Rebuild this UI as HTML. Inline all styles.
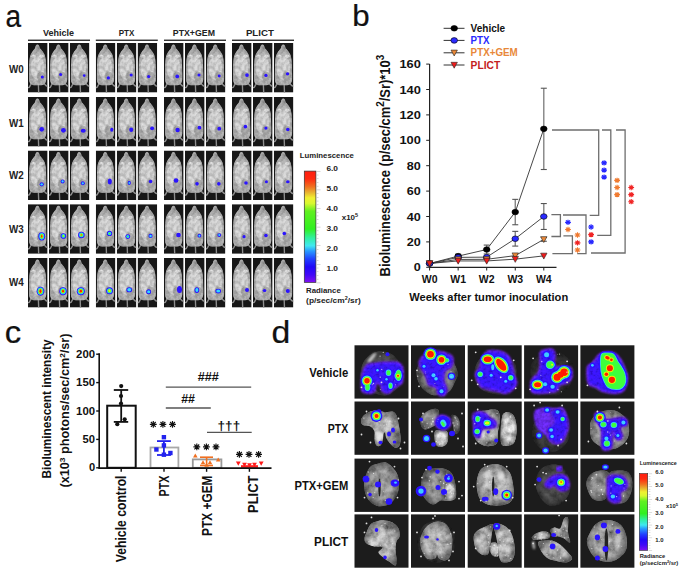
<!DOCTYPE html>
<html><head><meta charset="utf-8"><style>
html,body{margin:0;padding:0;background:#fff;}
svg{display:block;font-family:'Liberation Sans', sans-serif;}
</style></head><body>
<svg width="685" height="573" viewBox="0 0 685 573">
<defs>
<linearGradient id="cbar" x1="0" y1="0" x2="0" y2="1">
 <stop offset="0" stop-color="#ff1e10"/>
 <stop offset="0.07" stop-color="#ff2a10"/>
 <stop offset="0.14" stop-color="#f07020"/>
 <stop offset="0.19" stop-color="#e8b030"/>
 <stop offset="0.24" stop-color="#f0f030"/>
 <stop offset="0.29" stop-color="#d8f830"/>
 <stop offset="0.36" stop-color="#60f020"/>
 <stop offset="0.52" stop-color="#30f020"/>
 <stop offset="0.60" stop-color="#30f0a0"/>
 <stop offset="0.67" stop-color="#40e8f0"/>
 <stop offset="0.72" stop-color="#2898ff"/>
 <stop offset="0.79" stop-color="#2040ff"/>
 <stop offset="0.86" stop-color="#2008f8"/>
 <stop offset="0.93" stop-color="#4008f8"/>
 <stop offset="1" stop-color="#8010f0"/>
</linearGradient>
<radialGradient id="mbody" cx="0.5" cy="0.45" r="0.6">
 <stop offset="0" stop-color="#d2d2d2"/>
 <stop offset="0.7" stop-color="#bdbdbd"/>
 <stop offset="1" stop-color="#9a9a9a"/>
</radialGradient>
<radialGradient id="lung" cx="0.45" cy="0.4" r="0.65">
 <stop offset="0" stop-color="#d8d8d8"/>
 <stop offset="0.6" stop-color="#a8a8a8"/>
 <stop offset="1" stop-color="#707070"/>
</radialGradient>
<filter id="tex" x="-10%" y="-10%" width="120%" height="120%">
 <feTurbulence type="fractalNoise" baseFrequency="0.13" numOctaves="4" seed="4" result="t"/>
 <feColorMatrix in="t" type="matrix" values="1.3 0 0 0 0.02  1.3 0 0 0 0.02  1.3 0 0 0 0.02  0 0 0 0 1" result="g"/>
 <feComposite in="SourceGraphic" in2="g" operator="arithmetic" k1="1.5" k2="0" k3="0" k4="0" result="m"/>
 <feGaussianBlur in="m" stdDeviation="0.45"/>
</filter>
<filter id="texm" x="-10%" y="-10%" width="120%" height="120%">
 <feTurbulence type="fractalNoise" baseFrequency="0.3" numOctaves="3" seed="9" result="t"/>
 <feColorMatrix in="t" type="matrix" values="0.55 0 0 0 0.39  0.55 0 0 0 0.39  0.55 0 0 0 0.39  0 0 0 0 1" result="g"/>
 <feComposite in="SourceGraphic" in2="g" operator="arithmetic" k1="1.5" k2="0" k3="0" k4="0" result="m"/>
 <feGaussianBlur in="m" stdDeviation="0.35"/>
</filter>
<filter id="blur04" x="-50%" y="-50%" width="200%" height="200%"><feGaussianBlur stdDeviation="0.35"/></filter>
<filter id="texb" x="-10%" y="-10%" width="120%" height="120%">
 <feGaussianBlur in="SourceGraphic" stdDeviation="0.8" result="b"/>
 <feTurbulence type="fractalNoise" baseFrequency="0.3" numOctaves="2" seed="11" result="t"/>
 <feColorMatrix in="t" type="matrix" values="0.8 0 0 0 0.3  0.8 0 0 0 0.3  0.8 0 0 0 0.3  0 0 0 0 1" result="g"/>
 <feComposite in="b" in2="g" operator="arithmetic" k1="1.35" k2="0" k3="0" k4="0"/>
</filter>
<radialGradient id="edgeShade" cx="0.5" cy="0.5" r="0.55">
 <stop offset="0.55" stop-color="#000" stop-opacity="0"/>
 <stop offset="1" stop-color="#000" stop-opacity="0.45"/>
</radialGradient>
<filter id="blur05" x="-50%" y="-50%" width="200%" height="200%"><feGaussianBlur stdDeviation="0.45"/></filter>
<filter id="blur1" x="-50%" y="-50%" width="200%" height="200%"><feGaussianBlur stdDeviation="0.6"/></filter>
<filter id="blur2" x="-50%" y="-50%" width="200%" height="200%"><feGaussianBlur stdDeviation="1.2"/></filter>
<radialGradient id="h1"><stop offset="0" stop-color="#2a14ff" stop-opacity="1"/><stop offset="0.65" stop-color="#3012ff" stop-opacity="1"/><stop offset="0.85" stop-color="#5a18f0" stop-opacity="0.8"/><stop offset="1" stop-color="#6020e0" stop-opacity="0"/></radialGradient><radialGradient id="h2"><stop offset="0" stop-color="#40f0ff" stop-opacity="1"/><stop offset="0.3" stop-color="#30c0ff" stop-opacity="1"/><stop offset="0.5" stop-color="#2050ff" stop-opacity="1"/><stop offset="0.8" stop-color="#3010ff" stop-opacity="1"/><stop offset="1" stop-color="#5a18f0" stop-opacity="0"/></radialGradient><radialGradient id="h3"><stop offset="0" stop-color="#50ff40" stop-opacity="1"/><stop offset="0.3" stop-color="#40ff60" stop-opacity="1"/><stop offset="0.45" stop-color="#30e8e8" stop-opacity="1"/><stop offset="0.62" stop-color="#2060ff" stop-opacity="1"/><stop offset="0.82" stop-color="#3010ff" stop-opacity="1"/><stop offset="1" stop-color="#5a18f0" stop-opacity="0"/></radialGradient><radialGradient id="h4"><stop offset="0" stop-color="#ffe000" stop-opacity="1"/><stop offset="0.2" stop-color="#c0ff20" stop-opacity="1"/><stop offset="0.38" stop-color="#40ff40" stop-opacity="1"/><stop offset="0.52" stop-color="#20e8e8" stop-opacity="1"/><stop offset="0.68" stop-color="#2060ff" stop-opacity="1"/><stop offset="0.85" stop-color="#3010ff" stop-opacity="1"/><stop offset="1" stop-color="#5a18f0" stop-opacity="0"/></radialGradient><radialGradient id="h5"><stop offset="0" stop-color="#ff1000" stop-opacity="1"/><stop offset="0.38" stop-color="#ff1800" stop-opacity="1"/><stop offset="0.48" stop-color="#ffd000" stop-opacity="1"/><stop offset="0.58" stop-color="#60ff30" stop-opacity="1"/><stop offset="0.68" stop-color="#20e0f0" stop-opacity="1"/><stop offset="0.8" stop-color="#2060ff" stop-opacity="1"/><stop offset="0.9" stop-color="#3010ff" stop-opacity="1"/><stop offset="1" stop-color="#5a18f0" stop-opacity="0"/></radialGradient>
<symbol id="mouse" viewBox="0 0 20 50" preserveAspectRatio="none">
 <rect x="0" y="0" width="20" height="50" fill="#171717"/>
 <g stroke="#8e8e8e" stroke-linecap="round" fill="none">
  <path d="M10.6 42 L10.9 50" stroke-width="1.4"/>
  <path d="M3.6 40.5 L1.4 44.5 L0.6 45" stroke-width="1.4"/>
  <path d="M16 40.5 L18.6 43.2 L19.6 43.4" stroke-width="1.4"/>
 </g>
 <g filter="url(#texm)">
 <path d="M9.6 1.5 C8.4 1.5 7.6 3.2 7.2 5.2 C6.0 6.6 4.6 8.2 3.6 10.0 C2.2 12.2 1.5 15.5 1.3 19 L1.1 34 C1.0 38 1.4 40.5 3.2 41.8 C6 43 13.5 43 16.3 41.8 C18.3 40.5 18.8 38 18.7 34 L18.3 19 C18.1 15.5 17.4 12.2 16.0 10.0 C15.0 8.2 13.4 6.6 12.1 5.2 C11.7 3.2 10.9 1.5 9.6 1.5 Z" fill="#aaaaaa"/>
 <ellipse cx="9.8" cy="25" rx="7" ry="12" fill="#cacaca"/>
 <ellipse cx="5.6" cy="13.4" rx="2.3" ry="1.8" fill="#dcdcdc"/>
 <ellipse cx="13.8" cy="13.4" rx="2.3" ry="1.8" fill="#dcdcdc"/>
 <ellipse cx="9.6" cy="6" rx="1.8" ry="3" fill="#9c9c9c"/>
 <ellipse cx="13.2" cy="33.5" rx="4.2" ry="4.6" fill="#a2a2a2"/>
 </g>
</symbol>
<clipPath id="dclip00"><rect x="354.50" y="345.30" width="54.0" height="53.3"/></clipPath><clipPath id="dclip01"><rect x="411.00" y="345.30" width="54.0" height="53.3"/></clipPath><clipPath id="dclip02"><rect x="467.70" y="345.30" width="54.0" height="53.3"/></clipPath><clipPath id="dclip03"><rect x="524.10" y="345.30" width="54.0" height="53.3"/></clipPath><clipPath id="dclip04"><rect x="580.40" y="345.30" width="54.0" height="53.3"/></clipPath><clipPath id="dclip10"><rect x="354.50" y="401.50" width="54.0" height="53.3"/></clipPath><clipPath id="dclip11"><rect x="411.00" y="401.50" width="54.0" height="53.3"/></clipPath><clipPath id="dclip12"><rect x="467.70" y="401.50" width="54.0" height="53.3"/></clipPath><clipPath id="dclip13"><rect x="524.10" y="401.50" width="54.0" height="53.3"/></clipPath><clipPath id="dclip14"><rect x="580.40" y="401.50" width="54.0" height="53.3"/></clipPath><clipPath id="dclip20"><rect x="354.50" y="458.60" width="54.0" height="53.3"/></clipPath><clipPath id="dclip21"><rect x="411.00" y="458.60" width="54.0" height="53.3"/></clipPath><clipPath id="dclip22"><rect x="467.70" y="458.60" width="54.0" height="53.3"/></clipPath><clipPath id="dclip23"><rect x="524.10" y="458.60" width="54.0" height="53.3"/></clipPath><clipPath id="dclip24"><rect x="580.40" y="458.60" width="54.0" height="53.3"/></clipPath><clipPath id="dclip30"><rect x="354.50" y="514.40" width="54.0" height="53.3"/></clipPath><clipPath id="dclip31"><rect x="411.00" y="514.40" width="54.0" height="53.3"/></clipPath><clipPath id="dclip32"><rect x="467.70" y="514.40" width="54.0" height="53.3"/></clipPath><clipPath id="dclip33"><rect x="524.10" y="514.40" width="54.0" height="53.3"/></clipPath><clipPath id="dclip34"><rect x="580.40" y="514.40" width="54.0" height="53.3"/></clipPath></defs>
<rect width="685" height="573" fill="#fff"/>
<text x="5.6" y="26.9" font-size="31" font-weight="normal" fill="#111" stroke="#111" stroke-width="0.22" textLength="15.6" lengthAdjust="spacingAndGlyphs">a</text>
<text x="58.50" y="36.40" font-size="9.2" font-weight="bold" text-anchor="middle" fill="#222" textLength="31.00" lengthAdjust="spacingAndGlyphs" >Vehicle</text>
<rect x="28.00" y="39.6" width="62" height="1.3" fill="#222"/>
<text x="126.50" y="36.40" font-size="9.2" font-weight="bold" text-anchor="middle" fill="#222" textLength="15.60" lengthAdjust="spacingAndGlyphs" >PTX</text>
<rect x="95.80" y="39.6" width="62" height="1.3" fill="#222"/>
<text x="193.90" y="36.40" font-size="9.2" font-weight="bold" text-anchor="middle" fill="#222" textLength="42.10" lengthAdjust="spacingAndGlyphs" >PTX+GEM</text>
<rect x="164.00" y="39.6" width="62" height="1.3" fill="#222"/>
<text x="259.90" y="36.40" font-size="9.2" font-weight="bold" text-anchor="middle" fill="#222" textLength="28.00" lengthAdjust="spacingAndGlyphs" >PLICT</text>
<rect x="232.00" y="39.6" width="62" height="1.3" fill="#222"/>
<text x="9.00" y="72.90" font-size="10" font-weight="bold" text-anchor="start" fill="#222" textLength="14.70" lengthAdjust="spacingAndGlyphs" >W0</text>
<text x="9.00" y="126.50" font-size="10" font-weight="bold" text-anchor="start" fill="#222" textLength="14.70" lengthAdjust="spacingAndGlyphs" >W1</text>
<text x="9.00" y="179.40" font-size="10" font-weight="bold" text-anchor="start" fill="#222" textLength="14.70" lengthAdjust="spacingAndGlyphs" >W2</text>
<text x="9.00" y="232.60" font-size="10" font-weight="bold" text-anchor="start" fill="#222" textLength="14.70" lengthAdjust="spacingAndGlyphs" >W3</text>
<text x="9.00" y="286.00" font-size="10" font-weight="bold" text-anchor="start" fill="#222" textLength="14.70" lengthAdjust="spacingAndGlyphs" >W4</text>
<use href="#mouse" x="28.00" y="43.00" width="19.6" height="49.6"/>
<use href="#mouse" x="49.00" y="43.00" width="19.6" height="49.6"/>
<use href="#mouse" x="69.80" y="43.00" width="19.6" height="49.6"/>
<use href="#mouse" x="95.80" y="43.00" width="19.6" height="49.6"/>
<use href="#mouse" x="116.80" y="43.00" width="19.6" height="49.6"/>
<use href="#mouse" x="137.60" y="43.00" width="19.6" height="49.6"/>
<use href="#mouse" x="164.00" y="43.00" width="19.6" height="49.6"/>
<use href="#mouse" x="185.00" y="43.00" width="19.6" height="49.6"/>
<use href="#mouse" x="205.80" y="43.00" width="19.6" height="49.6"/>
<use href="#mouse" x="232.00" y="43.00" width="19.6" height="49.6"/>
<use href="#mouse" x="253.00" y="43.00" width="19.6" height="49.6"/>
<use href="#mouse" x="273.80" y="43.00" width="19.6" height="49.6"/>
<g filter="url(#blur04)">
<ellipse cx="42.31" cy="76.93" rx="1.55" ry="1.55" fill="#2b12ff"/>
<ellipse cx="60.66" cy="74.55" rx="1.55" ry="1.55" fill="#2b12ff"/>
<ellipse cx="84.21" cy="75.54" rx="1.35" ry="1.35" fill="#2b12ff"/>
<ellipse cx="108.34" cy="77.92" rx="1.65" ry="1.65" fill="#2b12ff"/>
<ellipse cx="131.21" cy="74.94" rx="1.55" ry="1.55" fill="#2b12ff"/>
<ellipse cx="148.67" cy="76.53" rx="1.65" ry="1.65" fill="#2b12ff"/>
<ellipse cx="177.23" cy="76.43" rx="1.85" ry="1.85" fill="#2b12ff"/>
<ellipse cx="199.01" cy="75.04" rx="1.55" ry="1.55" fill="#2b12ff"/>
<ellipse cx="219.23" cy="76.03" rx="1.45" ry="1.45" fill="#2b12ff"/>
<ellipse cx="246.99" cy="75.04" rx="1.85" ry="1.85" fill="#2b12ff"/>
<ellipse cx="265.94" cy="75.44" rx="1.65" ry="1.65" fill="#2b12ff"/>
<ellipse cx="287.52" cy="73.85" rx="1.65" ry="1.65" fill="#2b12ff"/>
</g>
<use href="#mouse" x="28.00" y="97.00" width="19.6" height="49.6"/>
<use href="#mouse" x="49.00" y="97.00" width="19.6" height="49.6"/>
<use href="#mouse" x="69.80" y="97.00" width="19.6" height="49.6"/>
<use href="#mouse" x="95.80" y="97.00" width="19.6" height="49.6"/>
<use href="#mouse" x="116.80" y="97.00" width="19.6" height="49.6"/>
<use href="#mouse" x="137.60" y="97.00" width="19.6" height="49.6"/>
<use href="#mouse" x="164.00" y="97.00" width="19.6" height="49.6"/>
<use href="#mouse" x="185.00" y="97.00" width="19.6" height="49.6"/>
<use href="#mouse" x="205.80" y="97.00" width="19.6" height="49.6"/>
<use href="#mouse" x="232.00" y="97.00" width="19.6" height="49.6"/>
<use href="#mouse" x="253.00" y="97.00" width="19.6" height="49.6"/>
<use href="#mouse" x="273.80" y="97.00" width="19.6" height="49.6"/>
<g filter="url(#blur04)">
<ellipse cx="41.72" cy="129.34" rx="2.30" ry="2.30" fill="#2b12ff"/>
<ellipse cx="63.41" cy="130.33" rx="2.40" ry="2.30" fill="#2b12ff"/>
<ellipse cx="83.23" cy="130.73" rx="2.50" ry="2.00" fill="#2b12ff"/>
<ellipse cx="111.77" cy="129.74" rx="1.60" ry="2.00" fill="#2b12ff"/>
<ellipse cx="131.21" cy="129.74" rx="2.00" ry="2.30" fill="#2b12ff"/>
<ellipse cx="152.10" cy="128.35" rx="2.00" ry="1.90" fill="#2b12ff"/>
<ellipse cx="177.62" cy="130.03" rx="2.20" ry="2.20" fill="#2b12ff"/>
<ellipse cx="199.41" cy="127.65" rx="1.90" ry="1.90" fill="#2b12ff"/>
<ellipse cx="219.23" cy="128.64" rx="1.90" ry="1.90" fill="#2b12ff"/>
<ellipse cx="245.43" cy="126.66" rx="1.80" ry="1.80" fill="#2b12ff"/>
<ellipse cx="265.94" cy="128.05" rx="1.60" ry="1.60" fill="#2b12ff"/>
<ellipse cx="287.81" cy="129.44" rx="1.80" ry="1.80" fill="#2b12ff"/>
</g>
<use href="#mouse" x="28.00" y="150.50" width="19.6" height="49.6"/>
<use href="#mouse" x="49.00" y="150.50" width="19.6" height="49.6"/>
<use href="#mouse" x="69.80" y="150.50" width="19.6" height="49.6"/>
<use href="#mouse" x="95.80" y="150.50" width="19.6" height="49.6"/>
<use href="#mouse" x="116.80" y="150.50" width="19.6" height="49.6"/>
<use href="#mouse" x="137.60" y="150.50" width="19.6" height="49.6"/>
<use href="#mouse" x="164.00" y="150.50" width="19.6" height="49.6"/>
<use href="#mouse" x="185.00" y="150.50" width="19.6" height="49.6"/>
<use href="#mouse" x="205.80" y="150.50" width="19.6" height="49.6"/>
<use href="#mouse" x="232.00" y="150.50" width="19.6" height="49.6"/>
<use href="#mouse" x="253.00" y="150.50" width="19.6" height="49.6"/>
<use href="#mouse" x="273.80" y="150.50" width="19.6" height="49.6"/>
<g filter="url(#blur04)">
<ellipse cx="41.72" cy="184.33" rx="2.10" ry="2.10" fill="#2b12ff"/>
<ellipse cx="62.62" cy="181.45" rx="2.00" ry="2.00" fill="#2b12ff"/>
<ellipse cx="82.83" cy="183.34" rx="2.00" ry="2.00" fill="#2b12ff"/>
<ellipse cx="109.81" cy="181.45" rx="2.00" ry="3.00" fill="#2b12ff"/>
<ellipse cx="129.25" cy="182.94" rx="1.60" ry="2.10" fill="#2b12ff"/>
<ellipse cx="150.54" cy="181.45" rx="1.80" ry="1.80" fill="#2b12ff"/>
<ellipse cx="176.05" cy="180.46" rx="2.30" ry="2.30" fill="#2b12ff"/>
<ellipse cx="197.05" cy="183.83" rx="1.80" ry="1.80" fill="#2b12ff"/>
<ellipse cx="218.83" cy="183.83" rx="1.80" ry="1.80" fill="#2b12ff"/>
<ellipse cx="246.01" cy="183.04" rx="1.80" ry="1.80" fill="#2b12ff"/>
<ellipse cx="266.43" cy="181.85" rx="1.50" ry="1.50" fill="#2b12ff"/>
<ellipse cx="287.81" cy="181.85" rx="1.80" ry="1.50" fill="#2b12ff"/>
<ellipse cx="41.72" cy="184.33" rx="1.20" ry="1.20" fill="#30d8ff"/>
<ellipse cx="62.62" cy="181.45" rx="1.10" ry="1.10" fill="#30d8ff"/>
<ellipse cx="82.83" cy="183.34" rx="1.10" ry="1.10" fill="#30d8ff"/>
<ellipse cx="129.25" cy="182.94" rx="0.70" ry="1.20" fill="#30d8ff"/>
</g>
<use href="#mouse" x="28.00" y="204.20" width="19.6" height="49.6"/>
<use href="#mouse" x="49.00" y="204.20" width="19.6" height="49.6"/>
<use href="#mouse" x="69.80" y="204.20" width="19.6" height="49.6"/>
<use href="#mouse" x="95.80" y="204.20" width="19.6" height="49.6"/>
<use href="#mouse" x="116.80" y="204.20" width="19.6" height="49.6"/>
<use href="#mouse" x="137.60" y="204.20" width="19.6" height="49.6"/>
<use href="#mouse" x="164.00" y="204.20" width="19.6" height="49.6"/>
<use href="#mouse" x="185.00" y="204.20" width="19.6" height="49.6"/>
<use href="#mouse" x="205.80" y="204.20" width="19.6" height="49.6"/>
<use href="#mouse" x="232.00" y="204.20" width="19.6" height="49.6"/>
<use href="#mouse" x="253.00" y="204.20" width="19.6" height="49.6"/>
<use href="#mouse" x="273.80" y="204.20" width="19.6" height="49.6"/>
<g filter="url(#blur04)">
<ellipse cx="41.72" cy="236.34" rx="3.40" ry="4.20" fill="#2b12ff"/>
<ellipse cx="63.41" cy="235.94" rx="2.80" ry="2.80" fill="#2b12ff"/>
<ellipse cx="81.36" cy="234.95" rx="3.30" ry="3.30" fill="#2b12ff"/>
<ellipse cx="109.52" cy="233.46" rx="2.60" ry="2.60" fill="#2b12ff"/>
<ellipse cx="127.78" cy="236.54" rx="2.40" ry="2.40" fill="#2b12ff"/>
<ellipse cx="150.54" cy="235.94" rx="2.10" ry="2.10" fill="#2b12ff"/>
<ellipse cx="178.50" cy="235.05" rx="2.30" ry="2.30" fill="#2b12ff"/>
<ellipse cx="199.41" cy="235.65" rx="1.90" ry="1.90" fill="#2b12ff"/>
<ellipse cx="219.23" cy="235.05" rx="1.90" ry="1.90" fill="#2b12ff"/>
<ellipse cx="244.05" cy="236.64" rx="1.60" ry="1.60" fill="#2b12ff"/>
<ellipse cx="265.94" cy="235.45" rx="1.80" ry="1.80" fill="#2b12ff"/>
<ellipse cx="284.29" cy="233.46" rx="1.80" ry="1.80" fill="#2b12ff"/>
<ellipse cx="41.72" cy="236.34" rx="2.50" ry="3.30" fill="#30d8ff"/>
<ellipse cx="63.41" cy="235.94" rx="1.90" ry="1.90" fill="#30d8ff"/>
<ellipse cx="81.36" cy="234.95" rx="2.40" ry="2.40" fill="#30d8ff"/>
<ellipse cx="109.52" cy="233.46" rx="1.70" ry="1.70" fill="#30d8ff"/>
<ellipse cx="127.78" cy="236.54" rx="1.50" ry="1.50" fill="#30d8ff"/>
<ellipse cx="150.54" cy="235.94" rx="1.20" ry="1.20" fill="#30d8ff"/>
<ellipse cx="199.41" cy="235.65" rx="1.00" ry="1.00" fill="#30d8ff"/>
<ellipse cx="219.23" cy="235.05" rx="1.00" ry="1.00" fill="#30d8ff"/>
<ellipse cx="41.72" cy="236.34" rx="1.80" ry="2.60" fill="#3cff3c"/>
<ellipse cx="63.41" cy="235.94" rx="1.20" ry="1.20" fill="#3cff3c"/>
<ellipse cx="81.36" cy="234.95" rx="1.70" ry="1.70" fill="#3cff3c"/>
<ellipse cx="109.52" cy="233.46" rx="1.00" ry="1.00" fill="#3cff3c"/>
<ellipse cx="127.78" cy="236.54" rx="0.80" ry="0.80" fill="#3cff3c"/>
<ellipse cx="41.72" cy="236.34" rx="1.20" ry="2.00" fill="#f0f400"/>
<ellipse cx="63.41" cy="235.94" rx="0.60" ry="0.60" fill="#f0f400"/>
<ellipse cx="81.36" cy="234.95" rx="1.10" ry="1.10" fill="#f0f400"/>
<ellipse cx="41.72" cy="236.34" rx="0.70" ry="1.50" fill="#ff1a00"/>
<ellipse cx="81.36" cy="234.95" rx="0.60" ry="0.60" fill="#ff1a00"/>
</g>
<use href="#mouse" x="28.00" y="258.00" width="19.6" height="49.6"/>
<use href="#mouse" x="49.00" y="258.00" width="19.6" height="49.6"/>
<use href="#mouse" x="69.80" y="258.00" width="19.6" height="49.6"/>
<use href="#mouse" x="95.80" y="258.00" width="19.6" height="49.6"/>
<use href="#mouse" x="116.80" y="258.00" width="19.6" height="49.6"/>
<use href="#mouse" x="137.60" y="258.00" width="19.6" height="49.6"/>
<use href="#mouse" x="164.00" y="258.00" width="19.6" height="49.6"/>
<use href="#mouse" x="185.00" y="258.00" width="19.6" height="49.6"/>
<use href="#mouse" x="205.80" y="258.00" width="19.6" height="49.6"/>
<use href="#mouse" x="232.00" y="258.00" width="19.6" height="49.6"/>
<use href="#mouse" x="253.00" y="258.00" width="19.6" height="49.6"/>
<use href="#mouse" x="273.80" y="258.00" width="19.6" height="49.6"/>
<g filter="url(#blur04)">
<ellipse cx="40.45" cy="291.13" rx="3.80" ry="4.50" fill="#2b12ff"/>
<ellipse cx="63.01" cy="291.13" rx="3.70" ry="4.00" fill="#2b12ff"/>
<ellipse cx="80.78" cy="291.13" rx="4.00" ry="4.00" fill="#2b12ff"/>
<ellipse cx="109.52" cy="290.74" rx="3.40" ry="3.50" fill="#2b12ff"/>
<ellipse cx="129.25" cy="289.74" rx="2.90" ry="2.60" fill="#2b12ff"/>
<ellipse cx="148.67" cy="291.73" rx="2.50" ry="2.50" fill="#2b12ff"/>
<ellipse cx="179.48" cy="289.45" rx="2.50" ry="3.50" fill="#2b12ff"/>
<ellipse cx="196.86" cy="290.04" rx="2.40" ry="2.90" fill="#2b12ff"/>
<ellipse cx="218.25" cy="291.03" rx="2.90" ry="2.40" fill="#2b12ff"/>
<ellipse cx="246.99" cy="290.04" rx="2.00" ry="2.00" fill="#2b12ff"/>
<ellipse cx="264.56" cy="290.44" rx="1.80" ry="1.50" fill="#2b12ff"/>
<ellipse cx="287.81" cy="291.03" rx="2.00" ry="2.00" fill="#2b12ff"/>
<ellipse cx="40.45" cy="291.13" rx="2.90" ry="3.60" fill="#30d8ff"/>
<ellipse cx="63.01" cy="291.13" rx="2.80" ry="3.10" fill="#30d8ff"/>
<ellipse cx="80.78" cy="291.13" rx="3.10" ry="3.10" fill="#30d8ff"/>
<ellipse cx="109.52" cy="290.74" rx="2.50" ry="2.60" fill="#30d8ff"/>
<ellipse cx="129.25" cy="289.74" rx="2.00" ry="1.70" fill="#30d8ff"/>
<ellipse cx="148.67" cy="291.73" rx="1.60" ry="1.60" fill="#30d8ff"/>
<ellipse cx="196.86" cy="290.04" rx="1.50" ry="2.00" fill="#30d8ff"/>
<ellipse cx="218.25" cy="291.03" rx="2.00" ry="1.50" fill="#30d8ff"/>
<ellipse cx="40.45" cy="291.13" rx="2.20" ry="2.90" fill="#3cff3c"/>
<ellipse cx="63.01" cy="291.13" rx="2.10" ry="2.40" fill="#3cff3c"/>
<ellipse cx="80.78" cy="291.13" rx="2.40" ry="2.40" fill="#3cff3c"/>
<ellipse cx="109.52" cy="290.74" rx="1.80" ry="1.90" fill="#3cff3c"/>
<ellipse cx="40.45" cy="291.13" rx="1.60" ry="2.30" fill="#f0f400"/>
<ellipse cx="63.01" cy="291.13" rx="1.50" ry="1.80" fill="#f0f400"/>
<ellipse cx="80.78" cy="291.13" rx="1.80" ry="1.80" fill="#f0f400"/>
<ellipse cx="109.52" cy="290.74" rx="1.20" ry="1.30" fill="#f0f400"/>
<ellipse cx="40.45" cy="291.13" rx="1.10" ry="1.80" fill="#ff1a00"/>
<ellipse cx="63.01" cy="291.13" rx="1.00" ry="1.30" fill="#ff1a00"/>
<ellipse cx="80.78" cy="291.13" rx="1.30" ry="1.30" fill="#ff1a00"/>
</g>
<rect x="304.3" y="171.1" width="11.6" height="111.3" fill="url(#cbar)" stroke="#333" stroke-width="0.7"/>
<text x="299.80" y="158.20" font-size="7.8" font-weight="bold" text-anchor="start" fill="#222" textLength="54.00" lengthAdjust="spacingAndGlyphs" >Luminescence</text>
<text x="326.40" y="170.80" font-size="8" font-weight="bold" text-anchor="start" fill="#222" textLength="11.60" lengthAdjust="spacingAndGlyphs" >6.0</text>
<text x="326.40" y="190.75" font-size="8" font-weight="bold" text-anchor="start" fill="#222" textLength="11.60" lengthAdjust="spacingAndGlyphs" >5.0</text>
<text x="326.40" y="210.70" font-size="8" font-weight="bold" text-anchor="start" fill="#222" textLength="11.60" lengthAdjust="spacingAndGlyphs" >4.0</text>
<text x="326.40" y="230.65" font-size="8" font-weight="bold" text-anchor="start" fill="#222" textLength="11.60" lengthAdjust="spacingAndGlyphs" >3.0</text>
<text x="326.40" y="250.60" font-size="8" font-weight="bold" text-anchor="start" fill="#222" textLength="11.60" lengthAdjust="spacingAndGlyphs" >2.0</text>
<text x="326.40" y="270.55" font-size="8" font-weight="bold" text-anchor="start" fill="#222" textLength="11.60" lengthAdjust="spacingAndGlyphs" >1.0</text>
<rect x="316.5" y="171.00" width="4" height="0.6" fill="#bbb"/>
<rect x="316.5" y="174.72" width="2" height="0.6" fill="#bbb"/>
<rect x="316.5" y="178.44" width="2" height="0.6" fill="#bbb"/>
<rect x="316.5" y="182.16" width="2" height="0.6" fill="#bbb"/>
<rect x="316.5" y="185.88" width="2" height="0.6" fill="#bbb"/>
<rect x="316.5" y="189.60" width="4" height="0.6" fill="#bbb"/>
<rect x="316.5" y="193.32" width="2" height="0.6" fill="#bbb"/>
<rect x="316.5" y="197.04" width="2" height="0.6" fill="#bbb"/>
<rect x="316.5" y="200.76" width="2" height="0.6" fill="#bbb"/>
<rect x="316.5" y="204.48" width="2" height="0.6" fill="#bbb"/>
<rect x="316.5" y="208.20" width="4" height="0.6" fill="#bbb"/>
<rect x="316.5" y="211.92" width="2" height="0.6" fill="#bbb"/>
<rect x="316.5" y="215.64" width="2" height="0.6" fill="#bbb"/>
<rect x="316.5" y="219.36" width="2" height="0.6" fill="#bbb"/>
<rect x="316.5" y="223.08" width="2" height="0.6" fill="#bbb"/>
<rect x="316.5" y="226.80" width="4" height="0.6" fill="#bbb"/>
<rect x="316.5" y="230.52" width="2" height="0.6" fill="#bbb"/>
<rect x="316.5" y="234.24" width="2" height="0.6" fill="#bbb"/>
<rect x="316.5" y="237.96" width="2" height="0.6" fill="#bbb"/>
<rect x="316.5" y="241.68" width="2" height="0.6" fill="#bbb"/>
<rect x="316.5" y="245.40" width="4" height="0.6" fill="#bbb"/>
<rect x="316.5" y="249.12" width="2" height="0.6" fill="#bbb"/>
<rect x="316.5" y="252.84" width="2" height="0.6" fill="#bbb"/>
<rect x="316.5" y="256.56" width="2" height="0.6" fill="#bbb"/>
<rect x="316.5" y="260.28" width="2" height="0.6" fill="#bbb"/>
<rect x="316.5" y="264.00" width="4" height="0.6" fill="#bbb"/>
<rect x="316.5" y="267.72" width="2" height="0.6" fill="#bbb"/>
<rect x="316.5" y="271.44" width="2" height="0.6" fill="#bbb"/>
<rect x="316.5" y="275.16" width="2" height="0.6" fill="#bbb"/>
<rect x="316.5" y="278.88" width="2" height="0.6" fill="#bbb"/>
<rect x="316.5" y="282.60" width="4" height="0.6" fill="#bbb"/>
<text x="341.7" y="219.5" font-size="8" font-weight="bold" fill="#222">x10<tspan font-size="5.5" dy="-3">5</tspan></text>
<text x="306.10" y="292.50" font-size="7.8" font-weight="bold" text-anchor="start" fill="#222" textLength="34.70" lengthAdjust="spacingAndGlyphs" >Radiance</text>
<text x="306.1" y="302.8" font-size="7.8" font-weight="bold" fill="#222" textLength="54.6" lengthAdjust="spacingAndGlyphs">(p/sec/cm<tspan font-size="5" dy="-3">2</tspan><tspan dy="3">/sr)</tspan></text>
<text x="352.2" y="26.0" font-size="30" font-weight="normal" fill="#111" stroke="#111" stroke-width="0.22" textLength="17.4" lengthAdjust="spacingAndGlyphs">b</text>
<line x1="429.6" y1="64" x2="429.6" y2="267.90000000000003" stroke="#222" stroke-width="1.2"/>
<line x1="429.0" y1="267.3" x2="556.5" y2="267.3" stroke="#222" stroke-width="1.2"/>
<line x1="426.2" y1="267.30" x2="429.6" y2="267.30" stroke="#222" stroke-width="1"/>
<text x="420.80" y="271.40" font-size="11.5" font-weight="bold" text-anchor="end" fill="#111" textLength="7.00" lengthAdjust="spacingAndGlyphs" >0</text>
<line x1="426.2" y1="241.90" x2="429.6" y2="241.90" stroke="#222" stroke-width="1"/>
<text x="420.80" y="246.00" font-size="11.5" font-weight="bold" text-anchor="end" fill="#111" textLength="14.00" lengthAdjust="spacingAndGlyphs" >20</text>
<line x1="426.2" y1="216.50" x2="429.6" y2="216.50" stroke="#222" stroke-width="1"/>
<text x="420.80" y="220.60" font-size="11.5" font-weight="bold" text-anchor="end" fill="#111" textLength="14.00" lengthAdjust="spacingAndGlyphs" >40</text>
<line x1="426.2" y1="191.10" x2="429.6" y2="191.10" stroke="#222" stroke-width="1"/>
<text x="420.80" y="195.20" font-size="11.5" font-weight="bold" text-anchor="end" fill="#111" textLength="14.00" lengthAdjust="spacingAndGlyphs" >60</text>
<line x1="426.2" y1="165.70" x2="429.6" y2="165.70" stroke="#222" stroke-width="1"/>
<text x="420.80" y="169.80" font-size="11.5" font-weight="bold" text-anchor="end" fill="#111" textLength="14.00" lengthAdjust="spacingAndGlyphs" >80</text>
<line x1="426.2" y1="140.30" x2="429.6" y2="140.30" stroke="#222" stroke-width="1"/>
<text x="420.80" y="144.40" font-size="11.5" font-weight="bold" text-anchor="end" fill="#111" textLength="21.40" lengthAdjust="spacingAndGlyphs" >100</text>
<line x1="426.2" y1="114.90" x2="429.6" y2="114.90" stroke="#222" stroke-width="1"/>
<text x="420.80" y="119.00" font-size="11.5" font-weight="bold" text-anchor="end" fill="#111" textLength="21.40" lengthAdjust="spacingAndGlyphs" >120</text>
<line x1="426.2" y1="89.50" x2="429.6" y2="89.50" stroke="#222" stroke-width="1"/>
<text x="420.80" y="93.60" font-size="11.5" font-weight="bold" text-anchor="end" fill="#111" textLength="21.40" lengthAdjust="spacingAndGlyphs" >140</text>
<line x1="426.2" y1="64.10" x2="429.6" y2="64.10" stroke="#222" stroke-width="1"/>
<text x="420.80" y="68.20" font-size="11.5" font-weight="bold" text-anchor="end" fill="#111" textLength="21.40" lengthAdjust="spacingAndGlyphs" >160</text>
<line x1="429.60" y1="267.3" x2="429.60" y2="270.5" stroke="#222" stroke-width="1"/>
<text x="429.60" y="282.70" font-size="10.5" font-weight="bold" text-anchor="middle" fill="#111" >W0</text>
<line x1="458.15" y1="267.3" x2="458.15" y2="270.5" stroke="#222" stroke-width="1"/>
<text x="458.15" y="282.70" font-size="10.5" font-weight="bold" text-anchor="middle" fill="#111" >W1</text>
<line x1="486.70" y1="267.3" x2="486.70" y2="270.5" stroke="#222" stroke-width="1"/>
<text x="486.70" y="282.70" font-size="10.5" font-weight="bold" text-anchor="middle" fill="#111" >W2</text>
<line x1="515.25" y1="267.3" x2="515.25" y2="270.5" stroke="#222" stroke-width="1"/>
<text x="515.25" y="282.70" font-size="10.5" font-weight="bold" text-anchor="middle" fill="#111" >W3</text>
<line x1="543.80" y1="267.3" x2="543.80" y2="270.5" stroke="#222" stroke-width="1"/>
<text x="543.80" y="282.70" font-size="10.5" font-weight="bold" text-anchor="middle" fill="#111" >W4</text>
<text x="409.20" y="300.70" font-size="11.6" font-weight="bold" text-anchor="start" fill="#111" textLength="159.00" lengthAdjust="spacingAndGlyphs" >Weeks after tumor inoculation</text>
<text transform="translate(389.6,276.4) rotate(-90)" x="0" y="0" font-size="13.8" font-weight="bold" fill="#111" textLength="221.7" lengthAdjust="spacingAndGlyphs">Bioluminescence (p/sec/cm<tspan font-size="10.6" dy="-5.6">2</tspan><tspan dy="5.6">/Sr)*10</tspan><tspan font-size="10.6" dy="-5.6">3</tspan></text>
<line x1="458.15" y1="254.22" x2="458.15" y2="258.03" stroke="#7a7a7a" stroke-width="1.3"/>
<line x1="455.15" y1="254.22" x2="461.15" y2="254.22" stroke="#555" stroke-width="1.1"/>
<line x1="455.15" y1="258.03" x2="461.15" y2="258.03" stroke="#555" stroke-width="1.1"/>
<line x1="486.70" y1="245.08" x2="486.70" y2="253.97" stroke="#7a7a7a" stroke-width="1.3"/>
<line x1="483.70" y1="245.08" x2="489.70" y2="245.08" stroke="#555" stroke-width="1.1"/>
<line x1="483.70" y1="253.97" x2="489.70" y2="253.97" stroke="#555" stroke-width="1.1"/>
<line x1="515.25" y1="199.36" x2="515.25" y2="224.75" stroke="#7a7a7a" stroke-width="1.3"/>
<line x1="512.25" y1="199.36" x2="518.25" y2="199.36" stroke="#555" stroke-width="1.1"/>
<line x1="512.25" y1="224.75" x2="518.25" y2="224.75" stroke="#555" stroke-width="1.1"/>
<line x1="543.80" y1="88.23" x2="543.80" y2="169.51" stroke="#7a7a7a" stroke-width="1.3"/>
<line x1="540.80" y1="88.23" x2="546.80" y2="88.23" stroke="#555" stroke-width="1.1"/>
<line x1="540.80" y1="169.51" x2="546.80" y2="169.51" stroke="#555" stroke-width="1.1"/>
<line x1="515.25" y1="231.36" x2="515.25" y2="246.09" stroke="#7a7a7a" stroke-width="1.3"/>
<line x1="512.25" y1="231.36" x2="518.25" y2="231.36" stroke="#555" stroke-width="1.1"/>
<line x1="512.25" y1="246.09" x2="518.25" y2="246.09" stroke="#555" stroke-width="1.1"/>
<line x1="543.80" y1="203.55" x2="543.80" y2="229.45" stroke="#7a7a7a" stroke-width="1.3"/>
<line x1="540.80" y1="203.55" x2="546.80" y2="203.55" stroke="#555" stroke-width="1.1"/>
<line x1="540.80" y1="229.45" x2="546.80" y2="229.45" stroke="#555" stroke-width="1.1"/>
<line x1="543.80" y1="237.46" x2="543.80" y2="241.27" stroke="#7a7a7a" stroke-width="1.3"/>
<line x1="540.80" y1="237.46" x2="546.80" y2="237.46" stroke="#555" stroke-width="1.1"/>
<line x1="540.80" y1="241.27" x2="546.80" y2="241.27" stroke="#555" stroke-width="1.1"/>
<polyline points="429.60,263.49 458.15,256.12 486.70,249.52 515.25,212.06 543.80,128.87" fill="none" stroke="#333" stroke-width="0.9"/>
<polyline points="429.60,263.49 458.15,257.39 486.70,257.14 515.25,238.73 543.80,216.50" fill="none" stroke="#333" stroke-width="0.9"/>
<polyline points="429.60,263.49 458.15,259.43 486.70,259.30 515.25,255.62 543.80,239.36" fill="none" stroke="#333" stroke-width="0.9"/>
<polyline points="429.60,263.49 458.15,260.95 486.70,260.95 515.25,259.17 543.80,255.87" fill="none" stroke="#333" stroke-width="0.9"/>
<ellipse cx="429.60" cy="263.49" rx="3.30" ry="2.80" fill="#000000" stroke="#000" stroke-width="0.6"/>
<ellipse cx="458.15" cy="256.12" rx="3.30" ry="2.80" fill="#000000" stroke="#000" stroke-width="0.6"/>
<ellipse cx="486.70" cy="249.52" rx="3.30" ry="2.80" fill="#000000" stroke="#000" stroke-width="0.6"/>
<ellipse cx="515.25" cy="212.06" rx="3.30" ry="2.80" fill="#000000" stroke="#000" stroke-width="0.6"/>
<ellipse cx="543.80" cy="128.87" rx="3.30" ry="2.80" fill="#000000" stroke="#000" stroke-width="0.6"/>
<ellipse cx="429.60" cy="263.49" rx="3.30" ry="2.80" fill="#2a2aff" stroke="#000" stroke-width="0.6"/>
<ellipse cx="458.15" cy="257.39" rx="3.30" ry="2.80" fill="#2a2aff" stroke="#000" stroke-width="0.6"/>
<ellipse cx="486.70" cy="257.14" rx="3.30" ry="2.80" fill="#2a2aff" stroke="#000" stroke-width="0.6"/>
<ellipse cx="515.25" cy="238.73" rx="3.30" ry="2.80" fill="#2a2aff" stroke="#000" stroke-width="0.6"/>
<ellipse cx="543.80" cy="216.50" rx="3.30" ry="2.80" fill="#2a2aff" stroke="#000" stroke-width="0.6"/>
<path d="M426.40 260.79 L432.80 260.79 L429.60 266.69 Z" fill="#e8883a" stroke="#222" stroke-width="0.6"/>
<path d="M454.95 256.73 L461.35 256.73 L458.15 262.63 Z" fill="#e8883a" stroke="#222" stroke-width="0.6"/>
<path d="M483.50 256.60 L489.90 256.60 L486.70 262.50 Z" fill="#e8883a" stroke="#222" stroke-width="0.6"/>
<path d="M512.05 252.92 L518.45 252.92 L515.25 258.82 Z" fill="#e8883a" stroke="#222" stroke-width="0.6"/>
<path d="M540.60 236.66 L547.00 236.66 L543.80 242.56 Z" fill="#e8883a" stroke="#222" stroke-width="0.6"/>
<path d="M426.40 260.79 L432.80 260.79 L429.60 266.69 Z" fill="#ee1c1c" stroke="#222" stroke-width="0.6"/>
<path d="M454.95 258.25 L461.35 258.25 L458.15 264.15 Z" fill="#ee1c1c" stroke="#222" stroke-width="0.6"/>
<path d="M483.50 258.25 L489.90 258.25 L486.70 264.15 Z" fill="#ee1c1c" stroke="#222" stroke-width="0.6"/>
<path d="M512.05 256.47 L518.45 256.47 L515.25 262.37 Z" fill="#ee1c1c" stroke="#222" stroke-width="0.6"/>
<path d="M540.60 253.17 L547.00 253.17 L543.80 259.07 Z" fill="#ee1c1c" stroke="#222" stroke-width="0.6"/>
<line x1="443.6" y1="28.3" x2="464.5" y2="28.3" stroke="#333" stroke-width="1"/>
<ellipse cx="454.20" cy="28.30" rx="3.30" ry="2.80" fill="#000000" stroke="#000" stroke-width="0.6"/>
<text x="470.60" y="31.90" font-size="10" font-weight="bold" text-anchor="start" fill="#111" textLength="34.60" lengthAdjust="spacingAndGlyphs" >Vehicle</text>
<line x1="443.6" y1="40.4" x2="464.5" y2="40.4" stroke="#333" stroke-width="1"/>
<ellipse cx="454.20" cy="40.40" rx="3.30" ry="2.80" fill="#2a2aff" stroke="#000" stroke-width="0.6"/>
<text x="470.60" y="44.00" font-size="10" font-weight="bold" text-anchor="start" fill="#2a2aff" textLength="19.00" lengthAdjust="spacingAndGlyphs" >PTX</text>
<line x1="443.6" y1="52.8" x2="464.5" y2="52.8" stroke="#333" stroke-width="1"/>
<path d="M451.00 50.10 L457.40 50.10 L454.20 56.00 Z" fill="#e8883a" stroke="#222" stroke-width="0.6"/>
<text x="470.60" y="56.40" font-size="10" font-weight="bold" text-anchor="start" fill="#e8883a" textLength="47.20" lengthAdjust="spacingAndGlyphs" >PTX+GEM</text>
<line x1="443.6" y1="65.0" x2="464.5" y2="65.0" stroke="#333" stroke-width="1"/>
<path d="M451.00 62.30 L457.40 62.30 L454.20 68.20 Z" fill="#ee1c1c" stroke="#222" stroke-width="0.6"/>
<text x="470.60" y="68.60" font-size="10" font-weight="bold" text-anchor="start" fill="#c42020" textLength="29.60" lengthAdjust="spacingAndGlyphs" >PLICT</text>
<polyline points="552,130 598.7,130 598.7,215.3 589.7,215.3" fill="none" stroke="#6e6e6e" stroke-width="1.3"/>
<polyline points="602,130 610.8,130 610.8,235.4 597.2,235.4" fill="none" stroke="#6e6e6e" stroke-width="1.3"/>
<polyline points="616,130 625.1,130 625.1,253.0 591.0,253.0" fill="none" stroke="#6e6e6e" stroke-width="1.3"/>
<polyline points="551.4,214.6 560.4,214.6 560.4,236.5 551.4,236.5" fill="none" stroke="#6e6e6e" stroke-width="1.3"/>
<polyline points="563,215.0 586,215.0 586,253.7 577.2,253.7" fill="none" stroke="#6e6e6e" stroke-width="1.3"/>
<polyline points="563.4,235.8 572.4,235.8 572.4,253.7 552.4,253.7" fill="none" stroke="#6e6e6e" stroke-width="1.3"/>
<path d="M604.10 160.23 L604.10 165.57 M606.15 161.01 L602.05 164.79 M607.00 162.90 L601.20 162.90 M606.15 164.79 L602.05 161.01 " stroke="#2626ff" stroke-width="1.15" fill="none" stroke-linecap="butt"/>
<path d="M604.10 167.43 L604.10 172.77 M606.15 168.21 L602.05 171.99 M607.00 170.10 L601.20 170.10 M606.15 171.99 L602.05 168.21 " stroke="#2626ff" stroke-width="1.15" fill="none" stroke-linecap="butt"/>
<path d="M604.10 174.43 L604.10 179.77 M606.15 175.21 L602.05 178.99 M607.00 177.10 L601.20 177.10 M606.15 178.99 L602.05 175.21 " stroke="#2626ff" stroke-width="1.15" fill="none" stroke-linecap="butt"/>
<path d="M617.10 177.73 L617.10 183.07 M619.15 178.51 L615.05 182.29 M620.00 180.40 L614.20 180.40 M619.15 182.29 L615.05 178.51 " stroke="#f07a30" stroke-width="1.15" fill="none" stroke-linecap="butt"/>
<path d="M617.10 184.83 L617.10 190.17 M619.15 185.61 L615.05 189.39 M620.00 187.50 L614.20 187.50 M619.15 189.39 L615.05 185.61 " stroke="#f07a30" stroke-width="1.15" fill="none" stroke-linecap="butt"/>
<path d="M617.10 191.93 L617.10 197.27 M619.15 192.71 L615.05 196.49 M620.00 194.60 L614.20 194.60 M619.15 196.49 L615.05 192.71 " stroke="#f07a30" stroke-width="1.15" fill="none" stroke-linecap="butt"/>
<path d="M631.20 184.83 L631.20 190.17 M633.25 185.61 L629.15 189.39 M634.10 187.50 L628.30 187.50 M633.25 189.39 L629.15 185.61 " stroke="#f02424" stroke-width="1.15" fill="none" stroke-linecap="butt"/>
<path d="M631.20 191.93 L631.20 197.27 M633.25 192.71 L629.15 196.49 M634.10 194.60 L628.30 194.60 M633.25 196.49 L629.15 192.71 " stroke="#f02424" stroke-width="1.15" fill="none" stroke-linecap="butt"/>
<path d="M631.20 199.03 L631.20 204.37 M633.25 199.81 L629.15 203.59 M634.10 201.70 L628.30 201.70 M633.25 203.59 L629.15 199.81 " stroke="#f02424" stroke-width="1.15" fill="none" stroke-linecap="butt"/>
<path d="M568.00 219.63 L568.00 224.97 M570.05 220.41 L565.95 224.19 M570.90 222.30 L565.10 222.30 M570.05 224.19 L565.95 220.41 " stroke="#2626ff" stroke-width="1.15" fill="none" stroke-linecap="butt"/>
<path d="M568.00 226.83 L568.00 232.17 M570.05 227.61 L565.95 231.39 M570.90 229.50 L565.10 229.50 M570.05 231.39 L565.95 227.61 " stroke="#f07a30" stroke-width="1.15" fill="none" stroke-linecap="butt"/>
<path d="M577.50 232.33 L577.50 237.67 M579.55 233.11 L575.45 236.89 M580.40 235.00 L574.60 235.00 M579.55 236.89 L575.45 233.11 " stroke="#f07a30" stroke-width="1.15" fill="none" stroke-linecap="butt"/>
<path d="M577.50 240.13 L577.50 245.47 M579.55 240.91 L575.45 244.69 M580.40 242.80 L574.60 242.80 M579.55 244.69 L575.45 240.91 " stroke="#f02424" stroke-width="1.15" fill="none" stroke-linecap="butt"/>
<path d="M577.50 247.33 L577.50 252.67 M579.55 248.11 L575.45 251.89 M580.40 250.00 L574.60 250.00 M579.55 251.89 L575.45 248.11 " stroke="#f07a30" stroke-width="1.15" fill="none" stroke-linecap="butt"/>
<path d="M591.10 224.33 L591.10 229.67 M593.15 225.11 L589.05 228.89 M594.00 227.00 L588.20 227.00 M593.15 228.89 L589.05 225.11 " stroke="#2626ff" stroke-width="1.15" fill="none" stroke-linecap="butt"/>
<path d="M591.10 231.93 L591.10 237.27 M593.15 232.71 L589.05 236.49 M594.00 234.60 L588.20 234.60 M593.15 236.49 L589.05 232.71 " stroke="#f02424" stroke-width="1.15" fill="none" stroke-linecap="butt"/>
<path d="M591.10 239.23 L591.10 244.57 M593.15 240.01 L589.05 243.79 M594.00 241.90 L588.20 241.90 M593.15 243.79 L589.05 240.01 " stroke="#2626ff" stroke-width="1.15" fill="none" stroke-linecap="butt"/>
<text x="4.8" y="342.6" font-size="31" font-weight="normal" fill="#111" stroke="#111" stroke-width="0.22" textLength="16.4" lengthAdjust="spacingAndGlyphs">c</text>
<line x1="99.2" y1="353.2" x2="99.2" y2="468.6" stroke="#111" stroke-width="1.6"/>
<line x1="96.2" y1="467.80" x2="99.2" y2="467.80" stroke="#111" stroke-width="1.4"/>
<text x="95.10" y="471.40" font-size="10.3" font-weight="bold" text-anchor="end" fill="#111" textLength="6.20" lengthAdjust="spacingAndGlyphs" >0</text>
<line x1="96.2" y1="439.40" x2="99.2" y2="439.40" stroke="#111" stroke-width="1.4"/>
<text x="95.10" y="443.00" font-size="10.3" font-weight="bold" text-anchor="end" fill="#111" textLength="12.50" lengthAdjust="spacingAndGlyphs" >50</text>
<line x1="96.2" y1="411.00" x2="99.2" y2="411.00" stroke="#111" stroke-width="1.4"/>
<text x="95.10" y="414.60" font-size="10.3" font-weight="bold" text-anchor="end" fill="#111" textLength="19.00" lengthAdjust="spacingAndGlyphs" >100</text>
<line x1="96.2" y1="382.60" x2="99.2" y2="382.60" stroke="#111" stroke-width="1.4"/>
<text x="95.10" y="386.20" font-size="10.3" font-weight="bold" text-anchor="end" fill="#111" textLength="19.00" lengthAdjust="spacingAndGlyphs" >150</text>
<line x1="96.2" y1="354.20" x2="99.2" y2="354.20" stroke="#111" stroke-width="1.4"/>
<text x="95.10" y="357.80" font-size="10.3" font-weight="bold" text-anchor="end" fill="#111" textLength="19.00" lengthAdjust="spacingAndGlyphs" >200</text>
<line x1="121.2" y1="467.8" x2="121.2" y2="471.8" stroke="#111" stroke-width="1.4"/>
<line x1="164.0" y1="467.8" x2="164.0" y2="471.8" stroke="#111" stroke-width="1.4"/>
<line x1="206.6" y1="467.8" x2="206.6" y2="471.8" stroke="#111" stroke-width="1.4"/>
<line x1="249.4" y1="467.8" x2="249.4" y2="471.8" stroke="#111" stroke-width="1.4"/>
<text transform="translate(51.3,478.5) rotate(-90)" font-size="12.5" font-weight="bold" fill="#111" textLength="139" lengthAdjust="spacingAndGlyphs">Bioluminescent intensity</text>
<text transform="translate(69.0,487.5) rotate(-90)" font-size="12" font-weight="bold" fill="#111" textLength="154" lengthAdjust="spacingAndGlyphs">(x10<tspan font-size="8" dy="-4.5">3</tspan><tspan dy="4.5"> photons/sec/cm</tspan><tspan font-size="8" dy="-4.5">2</tspan><tspan dy="4.5">/sr)</tspan></text>
<text transform="translate(126.2,562.20) rotate(-90)" font-size="13.8" font-weight="bold" fill="#111" textLength="86.7" lengthAdjust="spacingAndGlyphs">Vehicle control</text>
<text transform="translate(168.8,496.50) rotate(-90)" font-size="13.8" font-weight="bold" fill="#111" textLength="21" lengthAdjust="spacingAndGlyphs">PTX</text>
<text transform="translate(211.7,536.00) rotate(-90)" font-size="13.8" font-weight="bold" fill="#111" textLength="60.5" lengthAdjust="spacingAndGlyphs">PTX +GEM</text>
<text transform="translate(257.6,513.00) rotate(-90)" font-size="14.5" font-weight="bold" fill="#111" textLength="37.5" lengthAdjust="spacingAndGlyphs">PLICT</text>
<rect x="107.2" y="405.7" width="28.5" height="62.10" fill="#fff" stroke="#111" stroke-width="2"/>
<rect x="150.5" y="447.5" width="27.9" height="20.30" fill="#fff" stroke="#a8a8a8" stroke-width="1.8"/>
<rect x="192.8" y="459.4" width="28.6" height="8.40" fill="#fff" stroke="#9a9a9a" stroke-width="1.8"/>
<rect x="241" y="465.2" width="17" height="2.60" fill="#ff2020"/>
<line x1="121.2" y1="390" x2="121.2" y2="421.9" stroke="#111" stroke-width="1.8"/>
<line x1="113.8" y1="390" x2="128.2" y2="390" stroke="#111" stroke-width="1.8"/>
<line x1="113.8" y1="421.9" x2="128.2" y2="421.9" stroke="#111" stroke-width="1.8"/>
<circle cx="121.2" cy="386.1" r="2.1" fill="#111"/>
<circle cx="121.0" cy="396.0" r="2.1" fill="#111"/>
<circle cx="121.0" cy="403.6" r="2.1" fill="#111"/>
<circle cx="124.7" cy="419.3" r="2.1" fill="#111"/>
<circle cx="117.3" cy="424.2" r="2.1" fill="#111"/>
<line x1="163.9" y1="441.1" x2="163.9" y2="455" stroke="#2222ee" stroke-width="1.8"/>
<line x1="157" y1="441.1" x2="170.9" y2="441.1" stroke="#2222ee" stroke-width="1.8"/>
<line x1="157" y1="455" x2="170.9" y2="455" stroke="#2222ee" stroke-width="1.8"/>
<rect x="161.70000000000002" y="435.0" width="4.4" height="4.4" fill="#2222ee"/>
<rect x="161.70000000000002" y="443.2" width="4.4" height="4.4" fill="#2222ee"/>
<rect x="154.20000000000002" y="447.3" width="4.4" height="4.4" fill="#2222ee"/>
<rect x="168.20000000000002" y="450.8" width="4.4" height="4.4" fill="#2222ee"/>
<rect x="161.70000000000002" y="452.5" width="4.4" height="4.4" fill="#2222ee"/>
<line x1="206.6" y1="457.2" x2="206.6" y2="465.5" stroke="#f07020" stroke-width="1.6"/>
<line x1="200" y1="457.2" x2="213" y2="457.2" stroke="#f07020" stroke-width="1.6"/>
<line x1="200" y1="465.5" x2="213" y2="465.5" stroke="#f07020" stroke-width="1.6"/>
<path d="M193.0 457.5 L197.60000000000002 457.5 L195.3 453.5 Z" fill="#f07020"/>
<path d="M215.89999999999998 461.5 L220.5 461.5 L218.2 457.5 Z" fill="#f07020"/>
<path d="M200.7 464.3 L205.3 464.3 L203 460.3 Z" fill="#f07020"/>
<path d="M207.7 464.3 L212.3 464.3 L210 460.3 Z" fill="#f07020"/>
<path d="M204.29999999999998 466.8 L208.9 466.8 L206.6 462.8 Z" fill="#f07020"/>
<path d="M235.9 461.6 L240.70000000000002 461.6 L238.3 465.8 Z" fill="#ff1a1a"/>
<path d="M258.8 461.6 L263.59999999999997 461.6 L261.2 465.8 Z" fill="#ff1a1a"/>
<path d="M242.1 462.8 L246.9 462.8 L244.5 467.0 Z" fill="#ff1a1a"/>
<path d="M247.1 463.3 L251.9 463.3 L249.5 467.5 Z" fill="#ff1a1a"/>
<path d="M252.1 462.8 L256.9 462.8 L254.5 467.0 Z" fill="#ff1a1a"/>
<path d="M153.30 421.00 L153.30 427.80 M155.70 422.00 L150.90 426.80 M156.70 424.40 L149.90 424.40 M155.70 426.80 L150.90 422.00 " stroke="#111" stroke-width="1.15" fill="none"/>
<path d="M162.90 421.00 L162.90 427.80 M165.30 422.00 L160.50 426.80 M166.30 424.40 L159.50 424.40 M165.30 426.80 L160.50 422.00 " stroke="#111" stroke-width="1.15" fill="none"/>
<path d="M172.50 421.00 L172.50 427.80 M174.90 422.00 L170.10 426.80 M175.90 424.40 L169.10 424.40 M174.90 426.80 L170.10 422.00 " stroke="#111" stroke-width="1.15" fill="none"/>
<path d="M196.80 443.50 L196.80 450.30 M199.20 444.50 L194.40 449.30 M200.20 446.90 L193.40 446.90 M199.20 449.30 L194.40 444.50 " stroke="#111" stroke-width="1.15" fill="none"/>
<path d="M206.40 443.50 L206.40 450.30 M208.80 444.50 L204.00 449.30 M209.80 446.90 L203.00 446.90 M208.80 449.30 L204.00 444.50 " stroke="#111" stroke-width="1.15" fill="none"/>
<path d="M216.00 443.50 L216.00 450.30 M218.40 444.50 L213.60 449.30 M219.40 446.90 L212.60 446.90 M218.40 449.30 L213.60 444.50 " stroke="#111" stroke-width="1.15" fill="none"/>
<path d="M239.40 451.00 L239.40 457.80 M241.80 452.00 L237.00 456.80 M242.80 454.40 L236.00 454.40 M241.80 456.80 L237.00 452.00 " stroke="#111" stroke-width="1.15" fill="none"/>
<path d="M249.00 451.00 L249.00 457.80 M251.40 452.00 L246.60 456.80 M252.40 454.40 L245.60 454.40 M251.40 456.80 L246.60 452.00 " stroke="#111" stroke-width="1.15" fill="none"/>
<path d="M258.60 451.00 L258.60 457.80 M261.00 452.00 L256.20 456.80 M262.00 454.40 L255.20 454.40 M261.00 456.80 L256.20 452.00 " stroke="#111" stroke-width="1.15" fill="none"/>
<line x1="165.8" y1="387.1" x2="251.2" y2="387.1" stroke="#555" stroke-width="1.4"/>
<line x1="165.8" y1="408" x2="210.8" y2="408" stroke="#555" stroke-width="1.4"/>
<line x1="207" y1="432.4" x2="251.7" y2="432.4" stroke="#555" stroke-width="1.4"/>
<text x="197.70" y="381.00" font-size="12.3" font-weight="bold" text-anchor="start" fill="#111" textLength="21.20" lengthAdjust="spacingAndGlyphs" >###</text>
<text x="181.20" y="402.80" font-size="12.3" font-weight="bold" text-anchor="start" fill="#111" textLength="13.80" lengthAdjust="spacingAndGlyphs" >##</text>
<text x="217.60" y="429.50" font-size="12" font-weight="bold" text-anchor="start" fill="#111" textLength="22.60" lengthAdjust="spacingAndGlyphs" >&#8224;&#8224;&#8224;</text>
<line x1="98.4" y1="468.1" x2="271.5" y2="468.1" stroke="#111" stroke-width="1.6"/>
<text x="271.6" y="342.8" font-size="31" font-weight="normal" fill="#111" stroke="#111" stroke-width="0.22" textLength="18.8" lengthAdjust="spacingAndGlyphs">d</text>
<text x="348.20" y="377.00" font-size="12" font-weight="bold" text-anchor="end" fill="#111" textLength="38.90" lengthAdjust="spacingAndGlyphs" >Vehicle</text>
<text x="348.20" y="433.00" font-size="12" font-weight="bold" text-anchor="end" fill="#111" textLength="20.50" lengthAdjust="spacingAndGlyphs" >PTX</text>
<text x="348.20" y="489.70" font-size="12" font-weight="bold" text-anchor="end" fill="#111" textLength="53.70" lengthAdjust="spacingAndGlyphs" >PTX+GEM</text>
<text x="348.20" y="546.10" font-size="12" font-weight="bold" text-anchor="end" fill="#111" textLength="34.10" lengthAdjust="spacingAndGlyphs" >PLICT</text>
<rect x="354.50" y="345.30" width="54.0" height="53.3" fill="#1c1c1c"/>
<g clip-path="url(#dclip00)">
<path d="M401.89 373.30 C402.07 376.42 402.04 379.80 400.82 382.66 C399.60 385.51 397.02 388.33 394.59 390.43 C392.16 392.53 389.16 394.66 386.23 395.24 C383.29 395.83 380.01 394.75 376.98 393.94 C373.95 393.13 370.52 392.32 368.06 390.41 C365.59 388.50 363.43 385.32 362.18 382.47 C360.94 379.61 360.46 376.48 360.59 373.30 C360.73 370.12 361.76 366.17 362.99 363.41 C364.22 360.66 365.65 358.68 367.99 356.75 C370.32 354.81 373.95 352.56 377.00 351.78 C380.06 351.00 383.46 351.32 386.34 352.06 C389.22 352.79 392.07 354.22 394.30 356.21 C396.52 358.19 398.44 361.12 399.71 363.97 C400.97 366.82 401.70 370.18 401.89 373.30 Z" fill="#4e4e4e" filter="url(#tex)"/>
<path d="M401.89 373.30 C402.07 376.42 402.04 379.80 400.82 382.66 C399.60 385.51 397.02 388.33 394.59 390.43 C392.16 392.53 389.16 394.66 386.23 395.24 C383.29 395.83 380.01 394.75 376.98 393.94 C373.95 393.13 370.52 392.32 368.06 390.41 C365.59 388.50 363.43 385.32 362.18 382.47 C360.94 379.61 360.46 376.48 360.59 373.30 C360.73 370.12 361.76 366.17 362.99 363.41 C364.22 360.66 365.65 358.68 367.99 356.75 C370.32 354.81 373.95 352.56 377.00 351.78 C380.06 351.00 383.46 351.32 386.34 352.06 C389.22 352.79 392.07 354.22 394.30 356.21 C396.52 358.19 398.44 361.12 399.71 363.97 C400.97 366.82 401.70 370.18 401.89 373.30 Z" fill="url(#edgeShade)" filter="url(#blur05)"/>
<path d="M367.50 361.30 C367.83 359.97 371.00 355.63 372.50 354.30 C374.00 352.97 376.17 352.80 376.50 353.30 C376.83 353.80 375.50 355.80 374.50 357.30 C373.50 358.80 371.67 361.63 370.50 362.30 C369.33 362.97 367.17 362.63 367.50 361.30 Z" fill="#ececec" opacity="0.75" filter="url(#blur2)"/>
<ellipse cx="379.50" cy="387.30" rx="4" ry="5" fill="#202020" filter="url(#blur1)"/>
<path d="M362.50 373.30 C363.33 370.30 364.50 366.97 366.50 365.30 C368.50 363.63 371.50 363.80 374.50 363.30 C377.50 362.80 380.83 362.47 384.50 362.30 C388.17 362.13 393.50 361.47 396.50 362.30 C399.50 363.13 401.50 364.13 402.50 367.30 C403.50 370.47 403.17 378.30 402.50 381.30 C401.83 384.30 400.17 383.97 398.50 385.30 C396.83 386.63 394.17 387.97 392.50 389.30 C390.83 390.63 390.17 392.97 388.50 393.30 C386.83 393.63 383.83 392.63 382.50 391.30 C381.17 389.97 381.50 386.63 380.50 385.30 C379.50 383.97 377.50 382.30 376.50 383.30 C375.50 384.30 375.83 389.63 374.50 391.30 C373.17 392.97 370.50 393.30 368.50 393.30 C366.50 393.30 363.67 392.97 362.50 391.30 C361.33 389.63 361.50 386.30 361.50 383.30 C361.50 380.30 361.67 376.30 362.50 373.30 Z" fill="#3a16ff" stroke="#7a30e8" stroke-width="1.6" stroke-opacity="0.85" filter="url(#texb)"/>
<g filter="url(#blur05)">
<ellipse cx="367.50" cy="387.30" rx="4.10" ry="5.10" fill="#2b12ff"/>
<ellipse cx="367.00" cy="380.80" rx="6.50" ry="6.50" fill="#2b12ff"/>
<ellipse cx="398.50" cy="375.30" rx="4.60" ry="7.10" fill="#2b12ff"/>
<ellipse cx="398.00" cy="375.80" rx="4.80" ry="4.80" fill="#2b12ff"/>
<ellipse cx="388.50" cy="372.80" rx="4.10" ry="4.60" fill="#2b12ff"/>
<ellipse cx="377.50" cy="370.30" rx="2.50" ry="2.50" fill="#2b12ff"/>
<ellipse cx="386.50" cy="379.30" rx="2.50" ry="2.50" fill="#2b12ff"/>
<ellipse cx="390.50" cy="385.80" rx="3.60" ry="4.60" fill="#2b12ff"/>
<ellipse cx="387.50" cy="354.30" rx="2.00" ry="2.00" fill="#2b12ff"/>
<ellipse cx="367.50" cy="387.30" rx="2.80" ry="3.80" fill="#3cccff"/>
<ellipse cx="367.00" cy="380.80" rx="5.20" ry="5.20" fill="#3cccff"/>
<ellipse cx="398.50" cy="375.30" rx="3.30" ry="5.80" fill="#3cccff"/>
<ellipse cx="398.00" cy="375.80" rx="3.50" ry="3.50" fill="#3cccff"/>
<ellipse cx="388.50" cy="372.80" rx="2.80" ry="3.30" fill="#3cccff"/>
<ellipse cx="377.50" cy="370.30" rx="1.20" ry="1.20" fill="#3cccff"/>
<ellipse cx="386.50" cy="379.30" rx="1.20" ry="1.20" fill="#3cccff"/>
<ellipse cx="390.50" cy="385.80" rx="2.30" ry="3.30" fill="#3cccff"/>
<ellipse cx="367.50" cy="387.30" rx="2.00" ry="3.00" fill="#3cff3c"/>
<ellipse cx="367.00" cy="380.80" rx="4.40" ry="4.40" fill="#3cff3c"/>
<ellipse cx="398.50" cy="375.30" rx="2.50" ry="5.00" fill="#3cff3c"/>
<ellipse cx="398.00" cy="375.80" rx="2.70" ry="2.70" fill="#3cff3c"/>
<ellipse cx="388.50" cy="372.80" rx="2.00" ry="2.50" fill="#3cff3c"/>
<ellipse cx="390.50" cy="385.80" rx="1.50" ry="2.50" fill="#3cff3c"/>
<ellipse cx="367.00" cy="380.80" rx="3.65" ry="3.65" fill="#f0f400"/>
<ellipse cx="398.00" cy="375.80" rx="1.95" ry="1.95" fill="#f0f400"/>
<ellipse cx="367.00" cy="380.80" rx="2.70" ry="2.70" fill="#ff1a00"/>
<ellipse cx="398.00" cy="375.80" rx="1.00" ry="1.00" fill="#ff1a00"/>
</g>
<circle cx="395.46" cy="384.72" r="0.55" fill="#f4f4f4" opacity="0.60"/>
<circle cx="381.70" cy="369.38" r="0.67" fill="#f4f4f4" opacity="0.62"/>
<circle cx="380.27" cy="377.14" r="0.72" fill="#f4f4f4" opacity="0.70"/>
<circle cx="372.23" cy="384.63" r="0.62" fill="#f4f4f4" opacity="0.60"/>
<circle cx="373.40" cy="383.50" r="0.71" fill="#f4f4f4" opacity="0.77"/>
<circle cx="380.09" cy="356.16" r="0.55" fill="#f4f4f4" opacity="0.74"/>
<circle cx="380.29" cy="389.39" r="0.49" fill="#f4f4f4" opacity="0.82"/>
<circle cx="383.25" cy="352.39" r="0.65" fill="#f4f4f4" opacity="0.66"/>
<circle cx="394.65" cy="380.82" r="0.40" fill="#f4f4f4" opacity="0.70"/>
<circle cx="361.50" cy="387.30" r="0.9" fill="#e0e0e0"/>
<circle cx="381.50" cy="382.30" r="0.9" fill="#e0e0e0"/>
</g>
<rect x="411.00" y="345.30" width="54.0" height="53.3" fill="#1c1c1c"/>
<g clip-path="url(#dclip01)">
<path d="M457.73 374.30 C457.62 377.29 455.70 380.32 454.38 383.11 C453.06 385.90 451.95 389.14 449.80 391.03 C447.66 392.92 444.39 393.81 441.51 394.46 C438.63 395.11 435.36 395.65 432.51 394.95 C429.67 394.25 426.69 392.21 424.45 390.27 C422.21 388.33 420.38 386.00 419.08 383.33 C417.78 380.67 416.77 377.33 416.64 374.30 C416.52 371.27 417.01 367.84 418.33 365.16 C419.66 362.47 422.19 359.95 424.59 358.19 C426.98 356.43 429.91 355.28 432.71 354.60 C435.52 353.92 438.67 353.66 441.44 354.12 C444.21 354.58 447.08 355.53 449.35 357.37 C451.62 359.20 453.66 362.32 455.06 365.14 C456.45 367.97 457.84 371.31 457.73 374.30 Z" fill="#7a7a7a" filter="url(#tex)"/>
<path d="M457.73 374.30 C457.62 377.29 455.70 380.32 454.38 383.11 C453.06 385.90 451.95 389.14 449.80 391.03 C447.66 392.92 444.39 393.81 441.51 394.46 C438.63 395.11 435.36 395.65 432.51 394.95 C429.67 394.25 426.69 392.21 424.45 390.27 C422.21 388.33 420.38 386.00 419.08 383.33 C417.78 380.67 416.77 377.33 416.64 374.30 C416.52 371.27 417.01 367.84 418.33 365.16 C419.66 362.47 422.19 359.95 424.59 358.19 C426.98 356.43 429.91 355.28 432.71 354.60 C435.52 353.92 438.67 353.66 441.44 354.12 C444.21 354.58 447.08 355.53 449.35 357.37 C451.62 359.20 453.66 362.32 455.06 365.14 C456.45 367.97 457.84 371.31 457.73 374.30 Z" fill="url(#edgeShade)" filter="url(#blur05)"/>
<path d="M420.00 360.30 C421.17 357.97 424.17 354.80 427.00 353.30 C429.83 351.80 433.33 351.13 437.00 351.30 C440.67 351.47 446.33 352.97 449.00 354.30 C451.67 355.63 452.67 357.13 453.00 359.30 C453.33 361.47 452.33 365.30 451.00 367.30 C449.67 369.30 446.17 368.97 445.00 371.30 C443.83 373.63 443.67 378.30 444.00 381.30 C444.33 384.30 447.00 386.97 447.00 389.30 C447.00 391.63 445.50 394.47 444.00 395.30 C442.50 396.13 439.33 395.63 438.00 394.30 C436.67 392.97 437.50 388.80 436.00 387.30 C434.50 385.80 430.67 386.97 429.00 385.30 C427.33 383.63 427.00 379.63 426.00 377.30 C425.00 374.97 424.00 372.97 423.00 371.30 C422.00 369.63 420.50 369.13 420.00 367.30 C419.50 365.47 418.83 362.63 420.00 360.30 Z" fill="#3a16ff" stroke="#7a30e8" stroke-width="1.6" stroke-opacity="0.85" filter="url(#texb)"/>
<g filter="url(#blur05)">
<ellipse cx="446.50" cy="360.30" rx="4.10" ry="3.60" fill="#2b12ff"/>
<ellipse cx="430.50" cy="354.30" rx="7.10" ry="7.10" fill="#2b12ff"/>
<ellipse cx="441.50" cy="359.80" rx="6.60" ry="6.60" fill="#2b12ff"/>
<ellipse cx="424.00" cy="366.30" rx="2.80" ry="2.80" fill="#2b12ff"/>
<ellipse cx="433.50" cy="375.30" rx="3.30" ry="3.30" fill="#2b12ff"/>
<ellipse cx="436.00" cy="378.80" rx="3.10" ry="3.10" fill="#2b12ff"/>
<ellipse cx="451.50" cy="376.30" rx="3.80" ry="3.80" fill="#2b12ff"/>
<ellipse cx="441.50" cy="391.30" rx="3.30" ry="3.30" fill="#2b12ff"/>
<ellipse cx="446.50" cy="360.30" rx="2.80" ry="2.30" fill="#3cccff"/>
<ellipse cx="430.50" cy="354.30" rx="5.80" ry="5.80" fill="#3cccff"/>
<ellipse cx="441.50" cy="359.80" rx="5.30" ry="5.30" fill="#3cccff"/>
<ellipse cx="424.00" cy="366.30" rx="1.50" ry="1.50" fill="#3cccff"/>
<ellipse cx="433.50" cy="375.30" rx="2.00" ry="2.00" fill="#3cccff"/>
<ellipse cx="436.00" cy="378.80" rx="1.80" ry="1.80" fill="#3cccff"/>
<ellipse cx="451.50" cy="376.30" rx="2.50" ry="2.50" fill="#3cccff"/>
<ellipse cx="441.50" cy="391.30" rx="2.00" ry="2.00" fill="#3cccff"/>
<ellipse cx="446.50" cy="360.30" rx="2.00" ry="1.50" fill="#3cff3c"/>
<ellipse cx="430.50" cy="354.30" rx="5.00" ry="5.00" fill="#3cff3c"/>
<ellipse cx="441.50" cy="359.80" rx="4.50" ry="4.50" fill="#3cff3c"/>
<ellipse cx="430.50" cy="354.30" rx="4.25" ry="4.25" fill="#f0f400"/>
<ellipse cx="441.50" cy="359.80" rx="3.75" ry="3.75" fill="#f0f400"/>
<ellipse cx="430.50" cy="354.30" rx="3.30" ry="3.30" fill="#ff1a00"/>
<ellipse cx="441.50" cy="359.80" rx="2.80" ry="2.80" fill="#ff1a00"/>
</g>
<circle cx="448.02" cy="364.54" r="0.57" fill="#f4f4f4" opacity="0.68"/>
<circle cx="443.41" cy="386.32" r="0.43" fill="#f4f4f4" opacity="0.51"/>
<circle cx="450.98" cy="371.79" r="0.67" fill="#f4f4f4" opacity="0.50"/>
<circle cx="434.94" cy="383.58" r="0.48" fill="#f4f4f4" opacity="0.88"/>
<circle cx="417.69" cy="376.23" r="0.73" fill="#f4f4f4" opacity="0.65"/>
<circle cx="425.54" cy="371.36" r="0.41" fill="#f4f4f4" opacity="0.59"/>
<circle cx="434.63" cy="374.37" r="0.48" fill="#f4f4f4" opacity="0.59"/>
<circle cx="425.63" cy="372.89" r="0.50" fill="#f4f4f4" opacity="0.51"/>
<circle cx="451.06" cy="376.84" r="0.62" fill="#f4f4f4" opacity="0.57"/>
<circle cx="419.00" cy="386.30" r="0.9" fill="#e0e0e0"/>
<circle cx="417.00" cy="370.30" r="0.9" fill="#e0e0e0"/>
</g>
<rect x="467.70" y="345.30" width="54.0" height="53.3" fill="#1c1c1c"/>
<g clip-path="url(#dclip02)">
<path d="M516.26 373.30 C516.13 376.35 515.65 379.85 514.42 382.49 C513.20 385.13 511.30 387.17 508.92 389.15 C506.55 391.12 503.16 393.63 500.19 394.33 C497.22 395.02 494.13 394.11 491.12 393.34 C488.10 392.56 484.56 391.50 482.09 389.68 C479.61 387.86 477.54 385.12 476.27 382.39 C475.00 379.66 474.42 376.38 474.47 373.30 C474.52 370.22 475.22 366.71 476.58 363.92 C477.93 361.13 480.18 358.29 482.58 356.56 C484.98 354.83 487.98 354.19 490.96 353.54 C493.94 352.89 497.53 352.02 500.47 352.68 C503.41 353.34 506.13 355.58 508.59 357.50 C511.04 359.42 513.89 361.57 515.17 364.21 C516.45 366.84 516.38 370.25 516.26 373.30 Z" fill="#4a4a4a" filter="url(#tex)"/>
<path d="M516.26 373.30 C516.13 376.35 515.65 379.85 514.42 382.49 C513.20 385.13 511.30 387.17 508.92 389.15 C506.55 391.12 503.16 393.63 500.19 394.33 C497.22 395.02 494.13 394.11 491.12 393.34 C488.10 392.56 484.56 391.50 482.09 389.68 C479.61 387.86 477.54 385.12 476.27 382.39 C475.00 379.66 474.42 376.38 474.47 373.30 C474.52 370.22 475.22 366.71 476.58 363.92 C477.93 361.13 480.18 358.29 482.58 356.56 C484.98 354.83 487.98 354.19 490.96 353.54 C493.94 352.89 497.53 352.02 500.47 352.68 C503.41 353.34 506.13 355.58 508.59 357.50 C511.04 359.42 513.89 361.57 515.17 364.21 C516.45 366.84 516.38 370.25 516.26 373.30 Z" fill="url(#edgeShade)" filter="url(#blur05)"/>
<path d="M479.70 379.30 C480.03 380.63 484.37 387.30 487.70 389.30 C491.03 391.30 497.37 391.97 499.70 391.30 C502.03 390.63 502.37 386.97 501.70 385.30 C501.03 383.63 498.37 381.97 495.70 381.30 C493.03 380.63 488.37 381.63 485.70 381.30 C483.03 380.97 479.37 377.97 479.70 379.30 Z" fill="#6a2cf0" filter="url(#texb)"/>
<path d="M479.70 367.30 C480.87 364.63 481.37 359.97 482.70 357.30 C484.03 354.63 484.87 352.30 487.70 351.30 C490.53 350.30 496.37 350.63 499.70 351.30 C503.03 351.97 505.70 353.30 507.70 355.30 C509.70 357.30 510.70 360.30 511.70 363.30 C512.70 366.30 512.87 369.97 513.70 373.30 C514.53 376.63 517.03 380.47 516.70 383.30 C516.37 386.13 513.53 388.63 511.70 390.30 C509.87 391.97 508.03 393.13 505.70 393.30 C503.37 393.47 500.37 391.97 497.70 391.30 C495.03 390.63 492.37 389.97 489.70 389.30 C487.03 388.63 483.87 388.97 481.70 387.30 C479.53 385.63 477.70 381.63 476.70 379.30 C475.70 376.97 475.20 375.30 475.70 373.30 C476.20 371.30 478.53 369.97 479.70 367.30 Z" fill="#3a16ff" stroke="#7a30e8" stroke-width="1.6" stroke-opacity="0.85" filter="url(#texb)"/>
<g filter="url(#blur05)">
<ellipse cx="487.70" cy="359.30" rx="7.80" ry="6.60" fill="#2b12ff"/>
<ellipse cx="501.20" cy="364.80" rx="7.30" ry="10.80" fill="#2b12ff" transform="rotate(-38 501.20 364.80)"/>
<ellipse cx="492.70" cy="367.30" rx="2.80" ry="4.30" fill="#2b12ff"/>
<ellipse cx="480.20" cy="374.30" rx="4.10" ry="4.10" fill="#2b12ff"/>
<ellipse cx="510.70" cy="377.80" rx="4.10" ry="4.10" fill="#2b12ff"/>
<ellipse cx="505.70" cy="381.30" rx="2.80" ry="2.80" fill="#2b12ff"/>
<ellipse cx="491.20" cy="375.30" rx="2.80" ry="2.80" fill="#2b12ff"/>
<ellipse cx="487.70" cy="359.30" rx="6.50" ry="5.30" fill="#3cccff"/>
<ellipse cx="501.20" cy="364.80" rx="6.00" ry="9.50" fill="#3cccff" transform="rotate(-38 501.20 364.80)"/>
<ellipse cx="492.70" cy="367.30" rx="1.50" ry="3.00" fill="#3cccff"/>
<ellipse cx="480.20" cy="374.30" rx="2.80" ry="2.80" fill="#3cccff"/>
<ellipse cx="510.70" cy="377.80" rx="2.80" ry="2.80" fill="#3cccff"/>
<ellipse cx="505.70" cy="381.30" rx="1.50" ry="1.50" fill="#3cccff"/>
<ellipse cx="491.20" cy="375.30" rx="1.50" ry="1.50" fill="#3cccff"/>
<ellipse cx="487.70" cy="359.30" rx="5.70" ry="4.50" fill="#3cff3c"/>
<ellipse cx="501.20" cy="364.80" rx="5.20" ry="8.70" fill="#3cff3c" transform="rotate(-38 501.20 364.80)"/>
<ellipse cx="480.20" cy="374.30" rx="2.00" ry="2.00" fill="#3cff3c"/>
<ellipse cx="510.70" cy="377.80" rx="2.00" ry="2.00" fill="#3cff3c"/>
<ellipse cx="487.70" cy="359.30" rx="4.95" ry="3.75" fill="#f0f400"/>
<ellipse cx="501.20" cy="364.80" rx="4.45" ry="7.95" fill="#f0f400" transform="rotate(-38 501.20 364.80)"/>
<ellipse cx="487.70" cy="359.30" rx="4.00" ry="2.80" fill="#ff1a00"/>
<ellipse cx="501.20" cy="364.80" rx="3.50" ry="7.00" fill="#ff1a00" transform="rotate(-38 501.20 364.80)"/>
</g>
<circle cx="475.70" cy="352.30" r="0.9" fill="#e0e0e0"/>
<circle cx="513.70" cy="360.30" r="0.9" fill="#e0e0e0"/>
<circle cx="471.70" cy="380.30" r="0.9" fill="#e0e0e0"/>
<circle cx="500.70" cy="377.30" r="0.9" fill="#e0e0e0"/>
<circle cx="515.70" cy="388.30" r="0.9" fill="#e0e0e0"/>
<circle cx="477.70" cy="384.30" r="0.9" fill="#e0e0e0"/>
</g>
<rect x="524.10" y="345.30" width="54.0" height="53.3" fill="#1c1c1c"/>
<g clip-path="url(#dclip03)">
<path d="M573.64 373.30 C573.58 376.46 573.14 379.74 571.76 382.58 C570.37 385.43 567.77 388.25 565.34 390.36 C562.91 392.48 560.20 394.61 557.16 395.26 C554.12 395.92 550.24 395.12 547.10 394.27 C543.96 393.43 540.73 392.15 538.34 390.19 C535.96 388.24 534.09 385.36 532.80 382.54 C531.51 379.73 530.78 376.47 530.60 373.30 C530.43 370.13 530.52 366.32 531.76 363.52 C533.00 360.72 535.47 358.50 538.05 356.52 C540.64 354.54 544.11 352.51 547.28 351.63 C550.45 350.75 553.93 350.40 557.09 351.24 C560.25 352.08 563.73 354.60 566.23 356.67 C568.73 358.73 570.86 360.85 572.09 363.62 C573.32 366.40 573.69 370.14 573.64 373.30 Z" fill="#333333" filter="url(#tex)"/>
<path d="M573.64 373.30 C573.58 376.46 573.14 379.74 571.76 382.58 C570.37 385.43 567.77 388.25 565.34 390.36 C562.91 392.48 560.20 394.61 557.16 395.26 C554.12 395.92 550.24 395.12 547.10 394.27 C543.96 393.43 540.73 392.15 538.34 390.19 C535.96 388.24 534.09 385.36 532.80 382.54 C531.51 379.73 530.78 376.47 530.60 373.30 C530.43 370.13 530.52 366.32 531.76 363.52 C533.00 360.72 535.47 358.50 538.05 356.52 C540.64 354.54 544.11 352.51 547.28 351.63 C550.45 350.75 553.93 350.40 557.09 351.24 C560.25 352.08 563.73 354.60 566.23 356.67 C568.73 358.73 570.86 360.85 572.09 363.62 C573.32 366.40 573.69 370.14 573.64 373.30 Z" fill="url(#edgeShade)" filter="url(#blur05)"/>
<path d="M541.10 351.30 C543.10 349.97 549.77 348.63 552.10 349.30 C554.43 349.97 554.77 352.63 555.10 355.30 C555.43 357.97 552.93 363.30 554.10 365.30 C555.27 367.30 559.43 366.97 562.10 367.30 C564.77 367.63 568.43 365.97 570.10 367.30 C571.77 368.63 572.43 372.80 572.10 375.30 C571.77 377.80 570.27 380.63 568.10 382.30 C565.93 383.97 561.10 383.80 559.10 385.30 C557.10 386.80 559.93 389.97 556.10 391.30 C552.27 392.63 540.27 393.63 536.10 393.30 C531.93 392.97 531.77 391.63 531.10 389.30 C530.43 386.97 530.93 381.97 532.10 379.30 C533.27 376.63 536.77 375.63 538.10 373.30 C539.43 370.97 539.77 367.97 540.10 365.30 C540.43 362.63 539.93 359.63 540.10 357.30 C540.27 354.97 539.10 352.63 541.10 351.30 Z" fill="#3a16ff" stroke="#7a30e8" stroke-width="1.6" stroke-opacity="0.85" filter="url(#texb)"/>
<g filter="url(#blur05)">
<ellipse cx="546.60" cy="354.80" rx="3.80" ry="3.80" fill="#2b12ff"/>
<ellipse cx="550.10" cy="364.80" rx="5.60" ry="5.60" fill="#2b12ff"/>
<ellipse cx="552.10" cy="364.80" rx="3.85" ry="3.85" fill="#2b12ff"/>
<ellipse cx="557.10" cy="377.30" rx="7.30" ry="7.30" fill="#2b12ff"/>
<ellipse cx="564.10" cy="372.30" rx="7.60" ry="7.60" fill="#2b12ff"/>
<ellipse cx="560.60" cy="374.80" rx="6.80" ry="6.80" fill="#2b12ff"/>
<ellipse cx="537.60" cy="384.80" rx="7.30" ry="6.30" fill="#2b12ff"/>
<ellipse cx="545.10" cy="384.30" rx="3.30" ry="3.30" fill="#2b12ff"/>
<ellipse cx="552.60" cy="386.80" rx="3.50" ry="3.30" fill="#2b12ff"/>
<ellipse cx="546.60" cy="354.80" rx="2.50" ry="2.50" fill="#3cccff"/>
<ellipse cx="550.10" cy="364.80" rx="4.30" ry="4.30" fill="#3cccff"/>
<ellipse cx="552.10" cy="364.80" rx="2.55" ry="2.55" fill="#3cccff"/>
<ellipse cx="557.10" cy="377.30" rx="6.00" ry="6.00" fill="#3cccff"/>
<ellipse cx="564.10" cy="372.30" rx="6.30" ry="6.30" fill="#3cccff"/>
<ellipse cx="560.60" cy="374.80" rx="5.50" ry="5.50" fill="#3cccff"/>
<ellipse cx="537.60" cy="384.80" rx="6.00" ry="5.00" fill="#3cccff"/>
<ellipse cx="545.10" cy="384.30" rx="2.00" ry="2.00" fill="#3cccff"/>
<ellipse cx="552.60" cy="386.80" rx="2.20" ry="2.00" fill="#3cccff"/>
<ellipse cx="550.10" cy="364.80" rx="3.50" ry="3.50" fill="#3cff3c"/>
<ellipse cx="552.10" cy="364.80" rx="1.75" ry="1.75" fill="#3cff3c"/>
<ellipse cx="557.10" cy="377.30" rx="5.20" ry="5.20" fill="#3cff3c"/>
<ellipse cx="564.10" cy="372.30" rx="5.50" ry="5.50" fill="#3cff3c"/>
<ellipse cx="560.60" cy="374.80" rx="4.70" ry="4.70" fill="#3cff3c"/>
<ellipse cx="537.60" cy="384.80" rx="5.20" ry="4.20" fill="#3cff3c"/>
<ellipse cx="552.10" cy="364.80" rx="1.00" ry="1.00" fill="#f0f400"/>
<ellipse cx="557.10" cy="377.30" rx="4.45" ry="4.45" fill="#f0f400"/>
<ellipse cx="564.10" cy="372.30" rx="4.75" ry="4.75" fill="#f0f400"/>
<ellipse cx="560.60" cy="374.80" rx="3.95" ry="3.95" fill="#f0f400"/>
<ellipse cx="537.60" cy="384.80" rx="4.45" ry="3.45" fill="#f0f400"/>
<ellipse cx="557.10" cy="377.30" rx="3.50" ry="3.50" fill="#ff1a00"/>
<ellipse cx="564.10" cy="372.30" rx="3.80" ry="3.80" fill="#ff1a00"/>
<ellipse cx="560.60" cy="374.80" rx="3.00" ry="3.00" fill="#ff1a00"/>
<ellipse cx="537.60" cy="384.80" rx="3.50" ry="2.50" fill="#ff1a00"/>
</g>
<circle cx="540.84" cy="375.20" r="0.53" fill="#f4f4f4" opacity="0.74"/>
<circle cx="557.53" cy="354.13" r="0.40" fill="#f4f4f4" opacity="0.83"/>
<circle cx="541.76" cy="361.56" r="0.75" fill="#f4f4f4" opacity="0.69"/>
<circle cx="566.60" cy="372.21" r="0.62" fill="#f4f4f4" opacity="0.56"/>
<circle cx="557.92" cy="389.46" r="0.58" fill="#f4f4f4" opacity="0.80"/>
<circle cx="559.50" cy="354.06" r="0.67" fill="#f4f4f4" opacity="0.74"/>
<circle cx="567.85" cy="372.05" r="0.65" fill="#f4f4f4" opacity="0.85"/>
<circle cx="561.33" cy="391.79" r="0.54" fill="#f4f4f4" opacity="0.82"/>
<circle cx="549.74" cy="392.43" r="0.71" fill="#f4f4f4" opacity="0.54"/>
<circle cx="533.10" cy="358.30" r="0.9" fill="#e0e0e0"/>
<circle cx="567.10" cy="361.30" r="0.9" fill="#e0e0e0"/>
<circle cx="567.10" cy="382.30" r="0.9" fill="#e0e0e0"/>
<circle cx="530.10" cy="389.30" r="0.9" fill="#e0e0e0"/>
</g>
<rect x="580.40" y="345.30" width="54.0" height="53.3" fill="#1c1c1c"/>
<g clip-path="url(#dclip04)">
<path d="M627.60 373.30 C627.79 376.29 627.09 379.59 625.84 382.28 C624.60 384.98 622.47 387.72 620.11 389.46 C617.75 391.21 614.57 392.15 611.68 392.74 C608.80 393.34 605.65 393.75 602.79 393.03 C599.93 392.32 596.76 390.32 594.53 388.45 C592.30 386.58 590.63 384.33 589.43 381.80 C588.23 379.28 587.22 376.13 587.33 373.30 C587.44 370.47 588.78 367.51 590.08 364.82 C591.39 362.13 593.02 358.89 595.15 357.14 C597.28 355.39 600.05 354.80 602.85 354.33 C605.66 353.87 609.10 353.73 611.96 354.36 C614.81 355.00 617.86 356.46 619.99 358.13 C622.11 359.80 623.43 361.84 624.70 364.36 C625.97 366.89 627.41 370.31 627.60 373.30 Z" fill="#3a3a3a" filter="url(#tex)"/>
<path d="M627.60 373.30 C627.79 376.29 627.09 379.59 625.84 382.28 C624.60 384.98 622.47 387.72 620.11 389.46 C617.75 391.21 614.57 392.15 611.68 392.74 C608.80 393.34 605.65 393.75 602.79 393.03 C599.93 392.32 596.76 390.32 594.53 388.45 C592.30 386.58 590.63 384.33 589.43 381.80 C588.23 379.28 587.22 376.13 587.33 373.30 C587.44 370.47 588.78 367.51 590.08 364.82 C591.39 362.13 593.02 358.89 595.15 357.14 C597.28 355.39 600.05 354.80 602.85 354.33 C605.66 353.87 609.10 353.73 611.96 354.36 C614.81 355.00 617.86 356.46 619.99 358.13 C622.11 359.80 623.43 361.84 624.70 364.36 C625.97 366.89 627.41 370.31 627.60 373.30 Z" fill="url(#edgeShade)" filter="url(#blur05)"/>
<path d="M587.40 367.30 C588.07 363.97 590.57 365.30 592.40 363.30 C594.23 361.30 596.40 357.13 598.40 355.30 C600.40 353.47 601.73 352.63 604.40 352.30 C607.07 351.97 611.73 352.13 614.40 353.30 C617.07 354.47 618.73 356.97 620.40 359.30 C622.07 361.63 623.23 364.30 624.40 367.30 C625.57 370.30 627.40 373.63 627.40 377.30 C627.40 380.97 626.23 386.63 624.40 389.30 C622.57 391.97 620.07 392.97 616.40 393.30 C612.73 393.63 605.73 392.30 602.40 391.30 C599.07 390.30 598.73 388.63 596.40 387.30 C594.07 385.97 589.90 386.63 588.40 383.30 C586.90 379.97 586.73 370.63 587.40 367.30 Z" fill="#3a16ff" stroke="#7a30e8" stroke-width="1.6" stroke-opacity="0.85" filter="url(#texb)"/>
<g filter="url(#blur05)">
<path d="M601.40 355.30 C602.23 352.30 604.40 353.47 606.40 353.30 C608.40 353.13 611.57 352.97 613.40 354.30 C615.23 355.63 616.07 359.13 617.40 361.30 C618.73 363.47 620.23 365.30 621.40 367.30 C622.57 369.30 623.73 370.97 624.40 373.30 C625.07 375.63 625.73 378.97 625.40 381.30 C625.07 383.63 623.90 385.97 622.40 387.30 C620.90 388.63 618.73 389.30 616.40 389.30 C614.07 389.30 610.40 388.63 608.40 387.30 C606.40 385.97 605.57 383.97 604.40 381.30 C603.23 378.63 601.90 375.63 601.40 371.30 C600.90 366.97 600.57 358.30 601.40 355.30 Z" fill="#2b12ff" stroke="#2b12ff" stroke-width="4.20" stroke-linejoin="round"/>
<ellipse cx="607.40" cy="357.80" rx="6.10" ry="5.40" fill="#2b12ff" transform="rotate(20 607.40 357.80)"/>
<ellipse cx="611.40" cy="359.80" rx="5.20" ry="5.20" fill="#2b12ff"/>
<ellipse cx="609.90" cy="368.30" rx="6.80" ry="6.80" fill="#2b12ff"/>
<ellipse cx="606.40" cy="374.30" rx="5.60" ry="5.60" fill="#2b12ff"/>
<ellipse cx="611.90" cy="379.80" rx="6.90" ry="6.90" fill="#2b12ff"/>
<ellipse cx="620.40" cy="375.30" rx="3.90" ry="3.70" fill="#2b12ff"/>
<ellipse cx="618.40" cy="381.30" rx="3.30" ry="3.30" fill="#2b12ff"/>
<ellipse cx="592.40" cy="365.30" rx="2.70" ry="2.70" fill="#2b12ff"/>
<path d="M601.40 355.30 C602.23 352.30 604.40 353.47 606.40 353.30 C608.40 353.13 611.57 352.97 613.40 354.30 C615.23 355.63 616.07 359.13 617.40 361.30 C618.73 363.47 620.23 365.30 621.40 367.30 C622.57 369.30 623.73 370.97 624.40 373.30 C625.07 375.63 625.73 378.97 625.40 381.30 C625.07 383.63 623.90 385.97 622.40 387.30 C620.90 388.63 618.73 389.30 616.40 389.30 C614.07 389.30 610.40 388.63 608.40 387.30 C606.40 385.97 605.57 383.97 604.40 381.30 C603.23 378.63 601.90 375.63 601.40 371.30 C600.90 366.97 600.57 358.30 601.40 355.30 Z" fill="#3cccff" stroke="#3cccff" stroke-width="1.60" stroke-linejoin="round"/>
<ellipse cx="607.40" cy="357.80" rx="4.80" ry="4.10" fill="#3cccff" transform="rotate(20 607.40 357.80)"/>
<ellipse cx="611.40" cy="359.80" rx="3.90" ry="3.90" fill="#3cccff"/>
<ellipse cx="609.90" cy="368.30" rx="5.50" ry="5.50" fill="#3cccff"/>
<ellipse cx="606.40" cy="374.30" rx="4.30" ry="4.30" fill="#3cccff"/>
<ellipse cx="611.90" cy="379.80" rx="5.60" ry="5.60" fill="#3cccff"/>
<ellipse cx="620.40" cy="375.30" rx="2.60" ry="2.40" fill="#3cccff"/>
<ellipse cx="618.40" cy="381.30" rx="2.00" ry="2.00" fill="#3cccff"/>
<ellipse cx="592.40" cy="365.30" rx="1.40" ry="1.40" fill="#3cccff"/>
<path d="M601.40 355.30 C602.23 352.30 604.40 353.47 606.40 353.30 C608.40 353.13 611.57 352.97 613.40 354.30 C615.23 355.63 616.07 359.13 617.40 361.30 C618.73 363.47 620.23 365.30 621.40 367.30 C622.57 369.30 623.73 370.97 624.40 373.30 C625.07 375.63 625.73 378.97 625.40 381.30 C625.07 383.63 623.90 385.97 622.40 387.30 C620.90 388.63 618.73 389.30 616.40 389.30 C614.07 389.30 610.40 388.63 608.40 387.30 C606.40 385.97 605.57 383.97 604.40 381.30 C603.23 378.63 601.90 375.63 601.40 371.30 C600.90 366.97 600.57 358.30 601.40 355.30 Z" fill="#3cff3c"/>
<ellipse cx="607.40" cy="357.80" rx="4.00" ry="3.30" fill="#3cff3c" transform="rotate(20 607.40 357.80)"/>
<ellipse cx="611.40" cy="359.80" rx="3.10" ry="3.10" fill="#3cff3c"/>
<ellipse cx="609.90" cy="368.30" rx="4.70" ry="4.70" fill="#3cff3c"/>
<ellipse cx="606.40" cy="374.30" rx="3.50" ry="3.50" fill="#3cff3c"/>
<ellipse cx="611.90" cy="379.80" rx="4.80" ry="4.80" fill="#3cff3c"/>
<ellipse cx="607.40" cy="357.80" rx="3.25" ry="2.55" fill="#f0f400" transform="rotate(20 607.40 357.80)"/>
<ellipse cx="611.40" cy="359.80" rx="2.35" ry="2.35" fill="#f0f400"/>
<ellipse cx="609.90" cy="368.30" rx="3.95" ry="3.95" fill="#f0f400"/>
<ellipse cx="606.40" cy="374.30" rx="2.75" ry="2.75" fill="#f0f400"/>
<ellipse cx="611.90" cy="379.80" rx="4.05" ry="4.05" fill="#f0f400"/>
<ellipse cx="607.40" cy="357.80" rx="2.30" ry="1.60" fill="#ff1a00" transform="rotate(20 607.40 357.80)"/>
<ellipse cx="611.40" cy="359.80" rx="1.40" ry="1.40" fill="#ff1a00"/>
<ellipse cx="609.90" cy="368.30" rx="3.00" ry="3.00" fill="#ff1a00"/>
<ellipse cx="606.40" cy="374.30" rx="1.80" ry="1.80" fill="#ff1a00"/>
<ellipse cx="611.90" cy="379.80" rx="3.10" ry="3.10" fill="#ff1a00"/>
</g>
<circle cx="587.40" cy="385.30" r="0.9" fill="#e0e0e0"/>
</g>
<rect x="354.50" y="401.50" width="54.0" height="53.3" fill="#1c1c1c"/>
<g clip-path="url(#dclip10)">
<path d="M361.50 418.50 C362.33 416.83 364.33 414.83 366.50 413.50 C368.67 412.17 371.83 410.83 374.50 410.50 C377.17 410.17 380.83 411.17 382.50 411.50 C384.17 411.83 382.83 412.50 384.50 412.50 C386.17 412.50 390.50 411.00 392.50 411.50 C394.50 412.00 395.50 413.50 396.50 415.50 C397.50 417.50 397.83 420.00 398.50 423.50 C399.17 427.00 400.33 432.83 400.50 436.50 C400.67 440.17 400.50 443.67 399.50 445.50 C398.50 447.33 396.33 448.17 394.50 447.50 C392.67 446.83 390.17 443.50 388.50 441.50 C386.83 439.50 385.50 435.50 384.50 435.50 C383.50 435.50 383.17 439.83 382.50 441.50 C381.83 443.17 381.50 444.83 380.50 445.50 C379.50 446.17 377.50 446.50 376.50 445.50 C375.50 444.50 374.83 441.83 374.50 439.50 C374.17 437.17 375.17 433.67 374.50 431.50 C373.83 429.33 372.17 427.50 370.50 426.50 C368.83 425.50 366.00 426.00 364.50 425.50 C363.00 425.00 362.00 424.67 361.50 423.50 C361.00 422.33 360.67 420.17 361.50 418.50 Z" fill="#aeaeae" filter="url(#tex)"/>
<path d="M361.50 418.50 C362.33 416.83 364.33 414.83 366.50 413.50 C368.67 412.17 371.83 410.83 374.50 410.50 C377.17 410.17 380.83 411.17 382.50 411.50 C384.17 411.83 382.83 412.50 384.50 412.50 C386.17 412.50 390.50 411.00 392.50 411.50 C394.50 412.00 395.50 413.50 396.50 415.50 C397.50 417.50 397.83 420.00 398.50 423.50 C399.17 427.00 400.33 432.83 400.50 436.50 C400.67 440.17 400.50 443.67 399.50 445.50 C398.50 447.33 396.33 448.17 394.50 447.50 C392.67 446.83 390.17 443.50 388.50 441.50 C386.83 439.50 385.50 435.50 384.50 435.50 C383.50 435.50 383.17 439.83 382.50 441.50 C381.83 443.17 381.50 444.83 380.50 445.50 C379.50 446.17 377.50 446.50 376.50 445.50 C375.50 444.50 374.83 441.83 374.50 439.50 C374.17 437.17 375.17 433.67 374.50 431.50 C373.83 429.33 372.17 427.50 370.50 426.50 C368.83 425.50 366.00 426.00 364.50 425.50 C363.00 425.00 362.00 424.67 361.50 423.50 C361.00 422.33 360.67 420.17 361.50 418.50 Z" fill="url(#edgeShade)" filter="url(#blur05)"/>
<path d="M376.50 431.50 C377.50 430.50 381.83 431.83 382.50 433.50 C383.17 435.17 381.50 440.50 380.50 441.50 C379.50 442.50 377.17 441.17 376.50 439.50 C375.83 437.83 375.50 432.50 376.50 431.50 Z" fill="#ececec" opacity="0.75" filter="url(#blur2)"/>
<ellipse cx="384.50" cy="437.50" rx="1.2" ry="5" fill="#202020" filter="url(#blur1)"/>
<g filter="url(#blur05)">
<ellipse cx="379.00" cy="411.50" rx="2.50" ry="2.20" fill="#2b12ff"/>
<ellipse cx="376.50" cy="416.00" rx="5.90" ry="5.90" fill="#2b12ff"/>
<ellipse cx="393.00" cy="430.00" rx="2.00" ry="2.50" fill="#2b12ff"/>
<ellipse cx="389.00" cy="434.00" rx="2.00" ry="2.50" fill="#2b12ff"/>
<ellipse cx="380.50" cy="442.50" rx="2.00" ry="1.80" fill="#2b12ff"/>
<ellipse cx="394.50" cy="442.00" rx="1.80" ry="1.60" fill="#2b12ff"/>
<ellipse cx="376.50" cy="416.00" rx="4.60" ry="4.60" fill="#3cccff"/>
<ellipse cx="376.50" cy="416.00" rx="3.80" ry="3.80" fill="#3cff3c"/>
<ellipse cx="376.50" cy="416.00" rx="3.05" ry="3.05" fill="#f0f400"/>
<ellipse cx="376.50" cy="416.00" rx="2.10" ry="2.10" fill="#ff1a00"/>
</g>
<circle cx="374.13" cy="416.08" r="0.63" fill="#f4f4f4" opacity="0.53"/>
<circle cx="382.40" cy="424.03" r="0.42" fill="#f4f4f4" opacity="0.70"/>
<circle cx="378.06" cy="441.09" r="0.44" fill="#f4f4f4" opacity="0.59"/>
<circle cx="384.01" cy="425.18" r="0.74" fill="#f4f4f4" opacity="0.52"/>
<circle cx="394.98" cy="421.22" r="0.45" fill="#f4f4f4" opacity="0.55"/>
<circle cx="386.42" cy="424.28" r="0.59" fill="#f4f4f4" opacity="0.53"/>
<circle cx="363.82" cy="418.12" r="0.64" fill="#f4f4f4" opacity="0.67"/>
<circle cx="379.17" cy="421.59" r="0.68" fill="#f4f4f4" opacity="0.78"/>
<circle cx="389.95" cy="421.15" r="0.74" fill="#f4f4f4" opacity="0.55"/>
<circle cx="366.50" cy="411.50" r="0.9" fill="#e0e0e0"/>
<circle cx="361.50" cy="434.50" r="0.9" fill="#e0e0e0"/>
<circle cx="370.50" cy="442.50" r="0.9" fill="#e0e0e0"/>
<circle cx="404.50" cy="442.50" r="0.9" fill="#e0e0e0"/>
<circle cx="400.50" cy="448.50" r="0.9" fill="#e0e0e0"/>
<circle cx="398.50" cy="418.50" r="0.9" fill="#e0e0e0"/>
</g>
<rect x="411.00" y="401.50" width="54.0" height="53.3" fill="#1c1c1c"/>
<g clip-path="url(#dclip11)">
<path d="M424.00 413.50 C425.67 412.17 428.67 410.17 431.00 409.50 C433.33 408.83 436.67 408.50 438.00 409.50 C439.33 410.50 439.17 413.17 439.00 415.50 C438.83 417.83 438.33 421.50 437.00 423.50 C435.67 425.50 433.00 426.50 431.00 427.50 C429.00 428.50 426.67 429.83 425.00 429.50 C423.33 429.17 421.67 427.50 421.00 425.50 C420.33 423.50 420.50 419.50 421.00 417.50 C421.50 415.50 422.33 414.83 424.00 413.50 Z" fill="#8a8a8a" filter="url(#tex)"/>
<path d="M424.00 413.50 C425.67 412.17 428.67 410.17 431.00 409.50 C433.33 408.83 436.67 408.50 438.00 409.50 C439.33 410.50 439.17 413.17 439.00 415.50 C438.83 417.83 438.33 421.50 437.00 423.50 C435.67 425.50 433.00 426.50 431.00 427.50 C429.00 428.50 426.67 429.83 425.00 429.50 C423.33 429.17 421.67 427.50 421.00 425.50 C420.33 423.50 420.50 419.50 421.00 417.50 C421.50 415.50 422.33 414.83 424.00 413.50 Z" fill="url(#edgeShade)" filter="url(#blur05)"/>
<path d="M435.00 431.50 C436.00 429.67 439.00 430.50 441.00 430.50 C443.00 430.50 445.83 430.00 447.00 431.50 C448.17 433.00 448.33 437.17 448.00 439.50 C447.67 441.83 446.67 444.33 445.00 445.50 C443.33 446.67 439.67 447.17 438.00 446.50 C436.33 445.83 435.50 444.00 435.00 441.50 C434.50 439.00 434.00 433.33 435.00 431.50 Z" fill="#c6c6c6" filter="url(#tex)"/>
<path d="M435.00 431.50 C436.00 429.67 439.00 430.50 441.00 430.50 C443.00 430.50 445.83 430.00 447.00 431.50 C448.17 433.00 448.33 437.17 448.00 439.50 C447.67 441.83 446.67 444.33 445.00 445.50 C443.33 446.67 439.67 447.17 438.00 446.50 C436.33 445.83 435.50 444.00 435.00 441.50 C434.50 439.00 434.00 433.33 435.00 431.50 Z" fill="url(#edgeShade)" filter="url(#blur05)"/>
<path d="M451.00 415.50 C451.67 414.00 455.50 415.17 457.00 416.50 C458.50 417.83 459.67 421.00 460.00 423.50 C460.33 426.00 459.83 429.83 459.00 431.50 C458.17 433.17 456.00 434.50 455.00 433.50 C454.00 432.50 453.67 428.50 453.00 425.50 C452.33 422.50 450.33 417.00 451.00 415.50 Z" fill="#707070" filter="url(#tex)"/>
<path d="M451.00 415.50 C451.67 414.00 455.50 415.17 457.00 416.50 C458.50 417.83 459.67 421.00 460.00 423.50 C460.33 426.00 459.83 429.83 459.00 431.50 C458.17 433.17 456.00 434.50 455.00 433.50 C454.00 432.50 453.67 428.50 453.00 425.50 C452.33 422.50 450.33 417.00 451.00 415.50 Z" fill="url(#edgeShade)" filter="url(#blur05)"/>
<path d="M451.08 422.50 C451.05 423.62 451.06 424.84 450.56 425.88 C450.06 426.92 449.00 428.04 448.06 428.74 C447.11 429.45 446.04 429.91 444.89 430.11 C443.74 430.31 442.30 430.21 441.15 429.94 C440.01 429.68 438.98 429.23 438.03 428.54 C437.08 427.84 436.06 426.77 435.47 425.77 C434.88 424.76 434.47 423.59 434.50 422.50 C434.54 421.41 435.16 420.28 435.68 419.24 C436.20 418.20 436.72 417.02 437.62 416.29 C438.52 415.55 439.90 415.04 441.10 414.83 C442.29 414.61 443.60 414.71 444.78 415.00 C445.96 415.29 447.18 415.90 448.17 416.59 C449.17 417.28 450.26 418.17 450.75 419.15 C451.23 420.14 451.11 421.38 451.08 422.50 Z" fill="#6a2cf0" filter="url(#texb)"/>
<g filter="url(#blur05)">
<ellipse cx="443.00" cy="422.50" rx="7.00" ry="6.60" fill="#2b12ff"/>
<ellipse cx="443.50" cy="423.00" rx="3.90" ry="4.90" fill="#2b12ff" transform="rotate(-30 443.50 423.00)"/>
<ellipse cx="443.00" cy="424.00" rx="3.50" ry="4.70" fill="#2b12ff" transform="rotate(-30 443.00 424.00)"/>
<ellipse cx="426.50" cy="438.50" rx="3.80" ry="3.80" fill="#2b12ff"/>
<ellipse cx="433.50" cy="444.50" rx="2.40" ry="2.20" fill="#2b12ff"/>
<ellipse cx="452.00" cy="433.50" rx="3.00" ry="2.80" fill="#2b12ff"/>
<ellipse cx="421.00" cy="419.50" rx="2.00" ry="2.00" fill="#2b12ff"/>
<ellipse cx="443.50" cy="423.00" rx="2.60" ry="3.60" fill="#3cccff" transform="rotate(-30 443.50 423.00)"/>
<ellipse cx="443.00" cy="424.00" rx="2.20" ry="3.40" fill="#3cccff" transform="rotate(-30 443.00 424.00)"/>
<ellipse cx="426.50" cy="438.50" rx="2.50" ry="2.50" fill="#3cccff"/>
<ellipse cx="443.00" cy="424.00" rx="1.40" ry="2.60" fill="#3cff3c" transform="rotate(-30 443.00 424.00)"/>
</g>
<circle cx="425.08" cy="428.75" r="0.44" fill="#f4f4f4" opacity="0.78"/>
<circle cx="432.55" cy="418.68" r="0.56" fill="#f4f4f4" opacity="0.70"/>
<circle cx="424.46" cy="426.11" r="0.43" fill="#f4f4f4" opacity="0.59"/>
<circle cx="428.34" cy="427.54" r="0.53" fill="#f4f4f4" opacity="0.55"/>
<circle cx="422.14" cy="421.90" r="0.53" fill="#f4f4f4" opacity="0.76"/>
<circle cx="427.09" cy="423.33" r="0.57" fill="#f4f4f4" opacity="0.76"/>
<circle cx="437.22" cy="421.13" r="0.45" fill="#f4f4f4" opacity="0.53"/>
<circle cx="438.03" cy="419.27" r="0.47" fill="#f4f4f4" opacity="0.88"/>
<circle cx="431.42" cy="424.08" r="0.71" fill="#f4f4f4" opacity="0.61"/>
<circle cx="439.64" cy="444.55" r="0.45" fill="#f4f4f4" opacity="0.81"/>
<circle cx="436.27" cy="441.54" r="0.65" fill="#f4f4f4" opacity="0.88"/>
<circle cx="445.97" cy="438.56" r="0.47" fill="#f4f4f4" opacity="0.56"/>
<circle cx="441.87" cy="438.66" r="0.42" fill="#f4f4f4" opacity="0.86"/>
<circle cx="441.60" cy="441.72" r="0.48" fill="#f4f4f4" opacity="0.60"/>
<circle cx="435.15" cy="435.99" r="0.49" fill="#f4f4f4" opacity="0.67"/>
<circle cx="439.90" cy="443.85" r="0.71" fill="#f4f4f4" opacity="0.57"/>
<circle cx="440.15" cy="433.16" r="0.63" fill="#f4f4f4" opacity="0.89"/>
<circle cx="437.62" cy="442.76" r="0.51" fill="#f4f4f4" opacity="0.51"/>
<circle cx="457.88" cy="421.65" r="0.46" fill="#f4f4f4" opacity="0.67"/>
<circle cx="453.09" cy="422.88" r="0.56" fill="#f4f4f4" opacity="0.67"/>
<circle cx="456.30" cy="420.70" r="0.43" fill="#f4f4f4" opacity="0.53"/>
<circle cx="454.24" cy="430.04" r="0.58" fill="#f4f4f4" opacity="0.78"/>
<circle cx="454.48" cy="425.83" r="0.66" fill="#f4f4f4" opacity="0.64"/>
<circle cx="454.97" cy="417.00" r="0.61" fill="#f4f4f4" opacity="0.70"/>
<circle cx="455.26" cy="418.28" r="0.44" fill="#f4f4f4" opacity="0.73"/>
<circle cx="455.07" cy="417.78" r="0.55" fill="#f4f4f4" opacity="0.79"/>
<circle cx="457.44" cy="423.98" r="0.54" fill="#f4f4f4" opacity="0.64"/>
<circle cx="423.00" cy="413.50" r="0.9" fill="#e0e0e0"/>
<circle cx="433.00" cy="421.50" r="0.9" fill="#e0e0e0"/>
<circle cx="432.00" cy="431.50" r="0.9" fill="#e0e0e0"/>
<circle cx="458.00" cy="438.50" r="0.9" fill="#e0e0e0"/>
<circle cx="463.00" cy="446.50" r="0.9" fill="#e0e0e0"/>
<circle cx="462.00" cy="413.50" r="0.9" fill="#e0e0e0"/>
</g>
<rect x="467.70" y="401.50" width="54.0" height="53.3" fill="#1c1c1c"/>
<g clip-path="url(#dclip12)">
<path d="M475.70 413.50 C477.70 411.00 482.03 411.00 485.70 410.50 C489.37 410.00 495.37 408.67 497.70 410.50 C500.03 412.33 499.70 417.67 499.70 421.50 C499.70 425.33 498.03 430.17 497.70 433.50 C497.37 436.83 498.37 439.50 497.70 441.50 C497.03 443.50 496.03 444.83 493.70 445.50 C491.37 446.17 486.70 446.50 483.70 445.50 C480.70 444.50 477.37 442.83 475.70 439.50 C474.03 436.17 473.70 429.83 473.70 425.50 C473.70 421.17 473.70 416.00 475.70 413.50 Z" fill="#b8b8b8" filter="url(#tex)"/>
<path d="M475.70 413.50 C477.70 411.00 482.03 411.00 485.70 410.50 C489.37 410.00 495.37 408.67 497.70 410.50 C500.03 412.33 499.70 417.67 499.70 421.50 C499.70 425.33 498.03 430.17 497.70 433.50 C497.37 436.83 498.37 439.50 497.70 441.50 C497.03 443.50 496.03 444.83 493.70 445.50 C491.37 446.17 486.70 446.50 483.70 445.50 C480.70 444.50 477.37 442.83 475.70 439.50 C474.03 436.17 473.70 429.83 473.70 425.50 C473.70 421.17 473.70 416.00 475.70 413.50 Z" fill="url(#edgeShade)" filter="url(#blur05)"/>
<path d="M503.70 413.50 C505.03 412.33 507.87 411.83 509.70 412.50 C511.53 413.17 513.53 414.67 514.70 417.50 C515.87 420.33 516.70 425.50 516.70 429.50 C516.70 433.50 515.87 438.83 514.70 441.50 C513.53 444.17 511.87 445.00 509.70 445.50 C507.53 446.00 503.20 446.83 501.70 444.50 C500.20 442.17 500.70 435.67 500.70 431.50 C500.70 427.33 501.20 422.50 501.70 419.50 C502.20 416.50 502.37 414.67 503.70 413.50 Z" fill="#d4d4d4" filter="url(#tex)"/>
<path d="M503.70 413.50 C505.03 412.33 507.87 411.83 509.70 412.50 C511.53 413.17 513.53 414.67 514.70 417.50 C515.87 420.33 516.70 425.50 516.70 429.50 C516.70 433.50 515.87 438.83 514.70 441.50 C513.53 444.17 511.87 445.00 509.70 445.50 C507.53 446.00 503.20 446.83 501.70 444.50 C500.20 442.17 500.70 435.67 500.70 431.50 C500.70 427.33 501.20 422.50 501.70 419.50 C502.20 416.50 502.37 414.67 503.70 413.50 Z" fill="url(#edgeShade)" filter="url(#blur05)"/>
<path d="M473.70 413.50 C475.37 411.33 481.03 411.83 483.70 412.50 C486.37 413.17 487.70 416.00 489.70 417.50 C491.70 419.00 494.87 419.83 495.70 421.50 C496.53 423.17 496.70 426.33 494.70 427.50 C492.70 428.67 486.03 427.67 483.70 428.50 C481.37 429.33 481.37 431.00 480.70 432.50 C480.03 434.00 480.70 437.00 479.70 437.50 C478.70 438.00 475.70 437.50 474.70 435.50 C473.70 433.50 473.87 429.17 473.70 425.50 C473.53 421.83 472.03 415.67 473.70 413.50 Z" fill="#3a16ff" stroke="#7a30e8" stroke-width="1.6" stroke-opacity="0.85" filter="url(#texb)"/>
<g filter="url(#blur05)">
<ellipse cx="477.70" cy="419.00" rx="3.90" ry="4.60" fill="#2b12ff"/>
<ellipse cx="487.20" cy="423.00" rx="5.05" ry="4.45" fill="#2b12ff"/>
<ellipse cx="477.20" cy="431.50" rx="4.10" ry="4.10" fill="#2b12ff"/>
<ellipse cx="488.20" cy="432.00" rx="1.60" ry="1.60" fill="#2b12ff"/>
<ellipse cx="496.20" cy="440.50" rx="2.00" ry="2.00" fill="#2b12ff"/>
<ellipse cx="477.70" cy="419.00" rx="2.60" ry="3.30" fill="#3cccff"/>
<ellipse cx="487.20" cy="423.00" rx="3.75" ry="3.15" fill="#3cccff"/>
<ellipse cx="477.20" cy="431.50" rx="2.80" ry="2.80" fill="#3cccff"/>
<ellipse cx="477.70" cy="419.00" rx="1.80" ry="2.50" fill="#3cff3c"/>
<ellipse cx="487.20" cy="423.00" rx="2.95" ry="2.35" fill="#3cff3c"/>
<ellipse cx="477.20" cy="431.50" rx="2.00" ry="2.00" fill="#3cff3c"/>
<ellipse cx="487.20" cy="423.00" rx="2.20" ry="1.60" fill="#f0f400"/>
</g>
<circle cx="485.74" cy="423.57" r="0.45" fill="#f4f4f4" opacity="0.85"/>
<circle cx="497.06" cy="413.33" r="0.59" fill="#f4f4f4" opacity="0.75"/>
<circle cx="474.76" cy="423.77" r="0.65" fill="#f4f4f4" opacity="0.68"/>
<circle cx="492.55" cy="416.00" r="0.48" fill="#f4f4f4" opacity="0.54"/>
<circle cx="486.86" cy="442.83" r="0.61" fill="#f4f4f4" opacity="0.81"/>
<circle cx="483.68" cy="436.61" r="0.44" fill="#f4f4f4" opacity="0.62"/>
<circle cx="491.23" cy="435.90" r="0.55" fill="#f4f4f4" opacity="0.54"/>
<circle cx="480.64" cy="417.85" r="0.50" fill="#f4f4f4" opacity="0.82"/>
<circle cx="478.89" cy="441.52" r="0.71" fill="#f4f4f4" opacity="0.52"/>
<circle cx="506.76" cy="428.73" r="0.41" fill="#f4f4f4" opacity="0.67"/>
<circle cx="510.25" cy="416.50" r="0.60" fill="#f4f4f4" opacity="0.86"/>
<circle cx="502.04" cy="430.31" r="0.41" fill="#f4f4f4" opacity="0.53"/>
<circle cx="508.65" cy="442.89" r="0.55" fill="#f4f4f4" opacity="0.66"/>
<circle cx="510.92" cy="415.58" r="0.60" fill="#f4f4f4" opacity="0.57"/>
<circle cx="510.44" cy="444.12" r="0.42" fill="#f4f4f4" opacity="0.72"/>
<circle cx="510.40" cy="417.43" r="0.49" fill="#f4f4f4" opacity="0.90"/>
<circle cx="504.49" cy="432.67" r="0.42" fill="#f4f4f4" opacity="0.65"/>
<circle cx="511.49" cy="431.98" r="0.67" fill="#f4f4f4" opacity="0.53"/>
<circle cx="475.70" cy="443.50" r="0.9" fill="#e0e0e0"/>
<circle cx="477.70" cy="409.50" r="0.9" fill="#e0e0e0"/>
</g>
<rect x="524.10" y="401.50" width="54.0" height="53.3" fill="#1c1c1c"/>
<g clip-path="url(#dclip13)">
<path d="M570.55 431.50 C570.47 434.36 569.54 437.37 568.20 440.01 C566.85 442.65 564.62 445.44 562.47 447.34 C560.33 449.24 557.91 450.72 555.32 451.40 C552.72 452.08 549.56 452.07 546.92 451.42 C544.27 450.77 541.68 449.40 539.47 447.51 C537.26 445.63 534.90 442.79 533.67 440.12 C532.43 437.45 531.92 434.39 532.04 431.50 C532.16 428.61 533.25 425.34 534.40 422.79 C535.56 420.23 536.90 418.00 538.96 416.16 C541.03 414.31 544.02 412.36 546.77 411.71 C549.52 411.06 552.81 411.63 555.44 412.26 C558.08 412.89 560.36 413.72 562.56 415.49 C564.76 417.25 567.30 420.19 568.64 422.86 C569.97 425.53 570.62 428.64 570.55 431.50 Z" fill="#3a3a3a" filter="url(#tex)"/>
<path d="M570.55 431.50 C570.47 434.36 569.54 437.37 568.20 440.01 C566.85 442.65 564.62 445.44 562.47 447.34 C560.33 449.24 557.91 450.72 555.32 451.40 C552.72 452.08 549.56 452.07 546.92 451.42 C544.27 450.77 541.68 449.40 539.47 447.51 C537.26 445.63 534.90 442.79 533.67 440.12 C532.43 437.45 531.92 434.39 532.04 431.50 C532.16 428.61 533.25 425.34 534.40 422.79 C535.56 420.23 536.90 418.00 538.96 416.16 C541.03 414.31 544.02 412.36 546.77 411.71 C549.52 411.06 552.81 411.63 555.44 412.26 C558.08 412.89 560.36 413.72 562.56 415.49 C564.76 417.25 567.30 420.19 568.64 422.86 C569.97 425.53 570.62 428.64 570.55 431.50 Z" fill="url(#edgeShade)" filter="url(#blur05)"/>
<path d="M534.10 413.50 C534.43 410.67 535.77 409.50 538.10 408.50 C540.43 407.50 545.10 407.50 548.10 407.50 C551.10 407.50 553.77 408.50 556.10 408.50 C558.43 408.50 560.43 406.67 562.10 407.50 C563.77 408.33 565.10 410.50 566.10 413.50 C567.10 416.50 568.10 422.17 568.10 425.50 C568.10 428.83 567.10 430.83 566.10 433.50 C565.10 436.17 563.77 439.83 562.10 441.50 C560.43 443.17 558.10 443.50 556.10 443.50 C554.10 443.50 551.77 442.83 550.10 441.50 C548.43 440.17 547.77 437.17 546.10 435.50 C544.43 433.83 541.77 433.17 540.10 431.50 C538.43 429.83 537.10 428.50 536.10 425.50 C535.10 422.50 533.77 416.33 534.10 413.50 Z" fill="#6a2cf0" filter="url(#texb)"/>
<path d="M550.10 411.50 C551.10 409.50 557.43 408.83 560.10 409.50 C562.77 410.17 564.77 412.83 566.10 415.50 C567.43 418.17 568.10 422.50 568.10 425.50 C568.10 428.50 567.10 430.83 566.10 433.50 C565.10 436.17 563.77 439.83 562.10 441.50 C560.43 443.17 558.10 443.83 556.10 443.50 C554.10 443.17 551.43 441.83 550.10 439.50 C548.77 437.17 547.43 432.50 548.10 429.50 C548.77 426.50 553.77 424.50 554.10 421.50 C554.43 418.50 549.10 413.50 550.10 411.50 Z" fill="#3a16ff" stroke="#7a30e8" stroke-width="1.6" stroke-opacity="0.85" filter="url(#texb)"/>
<g filter="url(#blur05)">
<ellipse cx="547.10" cy="410.00" rx="3.30" ry="3.10" fill="#2b12ff"/>
<ellipse cx="557.60" cy="412.00" rx="3.30" ry="3.10" fill="#2b12ff"/>
<ellipse cx="562.60" cy="419.00" rx="3.60" ry="3.60" fill="#2b12ff"/>
<ellipse cx="551.10" cy="430.00" rx="3.30" ry="3.10" fill="#2b12ff"/>
<ellipse cx="552.10" cy="436.50" rx="3.10" ry="3.10" fill="#2b12ff"/>
<ellipse cx="539.10" cy="435.50" rx="3.30" ry="3.30" fill="#2b12ff"/>
<ellipse cx="545.60" cy="450.50" rx="3.50" ry="3.30" fill="#2b12ff"/>
<ellipse cx="547.10" cy="410.00" rx="2.00" ry="1.80" fill="#3cccff"/>
<ellipse cx="557.60" cy="412.00" rx="2.00" ry="1.80" fill="#3cccff"/>
<ellipse cx="562.60" cy="419.00" rx="2.30" ry="2.30" fill="#3cccff"/>
<ellipse cx="551.10" cy="430.00" rx="2.00" ry="1.80" fill="#3cccff"/>
<ellipse cx="552.10" cy="436.50" rx="1.80" ry="1.80" fill="#3cccff"/>
<ellipse cx="539.10" cy="435.50" rx="2.00" ry="2.00" fill="#3cccff"/>
<ellipse cx="545.60" cy="450.50" rx="2.20" ry="2.00" fill="#3cccff"/>
<ellipse cx="562.60" cy="419.00" rx="1.50" ry="1.50" fill="#3cff3c"/>
</g>
<circle cx="534.10" cy="405.50" r="0.9" fill="#e0e0e0"/>
<circle cx="540.10" cy="402.50" r="0.9" fill="#e0e0e0"/>
<circle cx="562.10" cy="405.50" r="0.9" fill="#e0e0e0"/>
<circle cx="561.10" cy="439.50" r="0.9" fill="#e0e0e0"/>
<circle cx="558.10" cy="445.50" r="0.9" fill="#e0e0e0"/>
</g>
<rect x="580.40" y="401.50" width="54.0" height="53.3" fill="#1c1c1c"/>
<g clip-path="url(#dclip14)">
<path d="M629.12 429.50 C629.20 432.38 628.84 435.30 627.64 437.88 C626.43 440.46 624.23 443.11 621.91 444.97 C619.58 446.82 616.49 448.36 613.69 449.01 C610.89 449.66 607.84 449.63 605.11 448.90 C602.39 448.16 599.63 446.37 597.36 444.62 C595.09 442.88 592.72 440.93 591.49 438.40 C590.26 435.88 590.05 432.48 590.00 429.50 C589.95 426.52 590.06 423.10 591.20 420.51 C592.34 417.93 594.59 415.63 596.85 413.99 C599.12 412.36 601.93 411.32 604.78 410.71 C607.63 410.10 611.19 409.72 613.98 410.33 C616.77 410.94 619.32 412.63 621.51 414.34 C623.71 416.05 625.88 418.08 627.14 420.60 C628.41 423.13 629.04 426.62 629.12 429.50 Z" fill="#a0a0a0" filter="url(#tex)"/>
<path d="M629.12 429.50 C629.20 432.38 628.84 435.30 627.64 437.88 C626.43 440.46 624.23 443.11 621.91 444.97 C619.58 446.82 616.49 448.36 613.69 449.01 C610.89 449.66 607.84 449.63 605.11 448.90 C602.39 448.16 599.63 446.37 597.36 444.62 C595.09 442.88 592.72 440.93 591.49 438.40 C590.26 435.88 590.05 432.48 590.00 429.50 C589.95 426.52 590.06 423.10 591.20 420.51 C592.34 417.93 594.59 415.63 596.85 413.99 C599.12 412.36 601.93 411.32 604.78 410.71 C607.63 410.10 611.19 409.72 613.98 410.33 C616.77 410.94 619.32 412.63 621.51 414.34 C623.71 416.05 625.88 418.08 627.14 420.60 C628.41 423.13 629.04 426.62 629.12 429.50 Z" fill="url(#edgeShade)" filter="url(#blur05)"/>
<path d="M595.40 413.50 C596.40 412.17 600.57 412.50 602.40 413.50 C604.23 414.50 603.40 418.83 606.40 419.50 C609.40 420.17 617.07 417.50 620.40 417.50 C623.73 417.50 625.40 418.17 626.40 419.50 C627.40 420.83 627.40 424.17 626.40 425.50 C625.40 426.83 621.07 425.50 620.40 427.50 C619.73 429.50 623.07 435.50 622.40 437.50 C621.73 439.50 618.07 440.50 616.40 439.50 C614.73 438.50 613.23 430.17 612.40 431.50 C611.57 432.83 613.07 444.67 611.40 447.50 C609.73 450.33 604.07 451.50 602.40 448.50 C600.73 445.50 602.40 434.00 601.40 429.50 C600.40 425.00 597.40 424.17 596.40 421.50 C595.40 418.83 594.40 414.83 595.40 413.50 Z" fill="#3a16ff" stroke="#7a30e8" stroke-width="1.6" stroke-opacity="0.85" filter="url(#texb)"/>
<g filter="url(#blur05)">
<ellipse cx="599.90" cy="417.50" rx="5.80" ry="5.80" fill="#2b12ff"/>
<ellipse cx="603.40" cy="424.50" rx="4.60" ry="4.30" fill="#2b12ff"/>
<ellipse cx="613.90" cy="425.00" rx="4.60" ry="4.30" fill="#2b12ff"/>
<ellipse cx="623.40" cy="422.50" rx="3.30" ry="3.30" fill="#2b12ff"/>
<ellipse cx="617.90" cy="435.50" rx="2.80" ry="2.80" fill="#2b12ff"/>
<ellipse cx="606.40" cy="438.50" rx="3.30" ry="3.30" fill="#2b12ff"/>
<ellipse cx="606.90" cy="443.50" rx="4.60" ry="4.60" fill="#2b12ff"/>
<ellipse cx="599.90" cy="417.50" rx="4.50" ry="4.50" fill="#3cccff"/>
<ellipse cx="603.40" cy="424.50" rx="3.30" ry="3.00" fill="#3cccff"/>
<ellipse cx="613.90" cy="425.00" rx="3.30" ry="3.00" fill="#3cccff"/>
<ellipse cx="623.40" cy="422.50" rx="2.00" ry="2.00" fill="#3cccff"/>
<ellipse cx="617.90" cy="435.50" rx="1.50" ry="1.50" fill="#3cccff"/>
<ellipse cx="606.40" cy="438.50" rx="2.00" ry="2.00" fill="#3cccff"/>
<ellipse cx="606.90" cy="443.50" rx="3.30" ry="3.30" fill="#3cccff"/>
<ellipse cx="599.90" cy="417.50" rx="3.70" ry="3.70" fill="#3cff3c"/>
<ellipse cx="603.40" cy="424.50" rx="2.50" ry="2.20" fill="#3cff3c"/>
<ellipse cx="613.90" cy="425.00" rx="2.50" ry="2.20" fill="#3cff3c"/>
<ellipse cx="606.90" cy="443.50" rx="2.50" ry="2.50" fill="#3cff3c"/>
<ellipse cx="599.90" cy="417.50" rx="2.95" ry="2.95" fill="#f0f400"/>
<ellipse cx="599.90" cy="417.50" rx="2.00" ry="2.00" fill="#ff1a00"/>
</g>
<circle cx="607.70" cy="431.98" r="0.72" fill="#f4f4f4" opacity="0.69"/>
<circle cx="609.87" cy="433.05" r="0.46" fill="#f4f4f4" opacity="0.70"/>
<circle cx="614.64" cy="441.00" r="0.43" fill="#f4f4f4" opacity="0.62"/>
<circle cx="615.58" cy="434.14" r="0.46" fill="#f4f4f4" opacity="0.51"/>
<circle cx="610.67" cy="412.63" r="0.47" fill="#f4f4f4" opacity="0.60"/>
<circle cx="591.18" cy="428.27" r="0.55" fill="#f4f4f4" opacity="0.84"/>
<circle cx="610.31" cy="435.10" r="0.57" fill="#f4f4f4" opacity="0.76"/>
<circle cx="607.89" cy="421.09" r="0.75" fill="#f4f4f4" opacity="0.90"/>
<circle cx="622.87" cy="437.71" r="0.51" fill="#f4f4f4" opacity="0.59"/>
<circle cx="588.40" cy="441.50" r="0.9" fill="#e0e0e0"/>
<circle cx="597.40" cy="411.50" r="0.9" fill="#e0e0e0"/>
<circle cx="619.40" cy="407.50" r="0.9" fill="#e0e0e0"/>
<circle cx="626.40" cy="443.50" r="0.9" fill="#e0e0e0"/>
</g>
<rect x="354.50" y="458.60" width="54.0" height="53.3" fill="#1c1c1c"/>
<g clip-path="url(#dclip20)">
<path d="M399.11 484.60 C399.05 487.83 398.36 491.49 397.23 494.30 C396.11 497.11 394.28 499.58 392.35 501.45 C390.42 503.33 388.15 504.80 385.67 505.55 C383.18 506.30 380.01 506.60 377.45 505.98 C374.89 505.35 372.28 503.72 370.32 501.79 C368.36 499.86 366.72 497.26 365.68 494.40 C364.64 491.53 364.05 487.79 364.09 484.60 C364.13 481.41 364.86 478.19 365.91 475.23 C366.95 472.27 368.42 468.75 370.36 466.85 C372.30 464.94 375.02 464.57 377.53 463.81 C380.04 463.06 382.96 461.74 385.43 462.31 C387.89 462.88 390.31 465.13 392.33 467.23 C394.35 469.34 396.43 472.04 397.56 474.93 C398.69 477.83 399.16 481.37 399.11 484.60 Z" fill="#959595" filter="url(#tex)"/>
<path d="M399.11 484.60 C399.05 487.83 398.36 491.49 397.23 494.30 C396.11 497.11 394.28 499.58 392.35 501.45 C390.42 503.33 388.15 504.80 385.67 505.55 C383.18 506.30 380.01 506.60 377.45 505.98 C374.89 505.35 372.28 503.72 370.32 501.79 C368.36 499.86 366.72 497.26 365.68 494.40 C364.64 491.53 364.05 487.79 364.09 484.60 C364.13 481.41 364.86 478.19 365.91 475.23 C366.95 472.27 368.42 468.75 370.36 466.85 C372.30 464.94 375.02 464.57 377.53 463.81 C380.04 463.06 382.96 461.74 385.43 462.31 C387.89 462.88 390.31 465.13 392.33 467.23 C394.35 469.34 396.43 472.04 397.56 474.93 C398.69 477.83 399.16 481.37 399.11 484.60 Z" fill="url(#edgeShade)" filter="url(#blur05)"/>
<ellipse cx="379.50" cy="487.60" rx="1.2" ry="9" fill="#202020" filter="url(#blur1)"/>
<g filter="url(#blur05)">
<ellipse cx="366.00" cy="479.10" rx="3.40" ry="3.40" fill="#2b12ff"/>
<ellipse cx="378.00" cy="484.60" rx="3.00" ry="3.00" fill="#2b12ff"/>
<ellipse cx="395.00" cy="483.10" rx="4.30" ry="3.70" fill="#2b12ff"/>
<ellipse cx="395.50" cy="482.60" rx="2.70" ry="2.50" fill="#2b12ff"/>
<ellipse cx="389.00" cy="501.60" rx="3.30" ry="3.30" fill="#2b12ff"/>
<ellipse cx="370.00" cy="494.60" rx="1.80" ry="1.80" fill="#2b12ff"/>
<ellipse cx="395.50" cy="482.60" rx="1.40" ry="1.20" fill="#3cccff"/>
</g>
<circle cx="367.83" cy="492.99" r="0.63" fill="#f4f4f4" opacity="0.88"/>
<circle cx="373.58" cy="473.48" r="0.66" fill="#f4f4f4" opacity="0.76"/>
<circle cx="374.70" cy="492.19" r="0.54" fill="#f4f4f4" opacity="0.81"/>
<circle cx="368.24" cy="472.06" r="0.72" fill="#f4f4f4" opacity="0.64"/>
<circle cx="373.21" cy="497.43" r="0.62" fill="#f4f4f4" opacity="0.56"/>
<circle cx="383.40" cy="491.31" r="0.46" fill="#f4f4f4" opacity="0.76"/>
<circle cx="368.40" cy="477.03" r="0.43" fill="#f4f4f4" opacity="0.58"/>
<circle cx="398.34" cy="479.94" r="0.75" fill="#f4f4f4" opacity="0.68"/>
<circle cx="385.36" cy="500.41" r="0.64" fill="#f4f4f4" opacity="0.54"/>
<circle cx="364.50" cy="497.60" r="0.9" fill="#e0e0e0"/>
<circle cx="397.50" cy="497.60" r="0.9" fill="#e0e0e0"/>
<circle cx="394.50" cy="466.60" r="0.9" fill="#e0e0e0"/>
<circle cx="369.50" cy="461.60" r="0.9" fill="#e0e0e0"/>
</g>
<rect x="411.00" y="458.60" width="54.0" height="53.3" fill="#1c1c1c"/>
<g clip-path="url(#dclip21)">
<path d="M424.00 472.60 C426.00 469.27 429.83 469.27 433.00 468.60 C436.17 467.93 440.00 467.93 443.00 468.60 C446.00 469.27 449.00 470.27 451.00 472.60 C453.00 474.93 454.17 478.60 455.00 482.60 C455.83 486.60 456.67 493.60 456.00 496.60 C455.33 499.60 453.50 499.93 451.00 500.60 C448.50 501.27 444.00 499.93 441.00 500.60 C438.00 501.27 435.67 504.93 433.00 504.60 C430.33 504.27 427.00 501.27 425.00 498.60 C423.00 495.93 421.17 492.93 421.00 488.60 C420.83 484.27 422.00 475.93 424.00 472.60 Z" fill="#8e8e8e" filter="url(#tex)"/>
<path d="M424.00 472.60 C426.00 469.27 429.83 469.27 433.00 468.60 C436.17 467.93 440.00 467.93 443.00 468.60 C446.00 469.27 449.00 470.27 451.00 472.60 C453.00 474.93 454.17 478.60 455.00 482.60 C455.83 486.60 456.67 493.60 456.00 496.60 C455.33 499.60 453.50 499.93 451.00 500.60 C448.50 501.27 444.00 499.93 441.00 500.60 C438.00 501.27 435.67 504.93 433.00 504.60 C430.33 504.27 427.00 501.27 425.00 498.60 C423.00 495.93 421.17 492.93 421.00 488.60 C420.83 484.27 422.00 475.93 424.00 472.60 Z" fill="url(#edgeShade)" filter="url(#blur05)"/>
<path d="M445.00 483.60 C446.33 481.10 451.17 481.43 453.00 483.60 C454.83 485.77 456.33 493.77 456.00 496.60 C455.67 499.43 452.83 500.27 451.00 500.60 C449.17 500.93 446.00 501.43 445.00 498.60 C444.00 495.77 443.67 486.10 445.00 483.60 Z" fill="#b8b8b8" filter="url(#tex)"/>
<path d="M445.00 483.60 C446.33 481.10 451.17 481.43 453.00 483.60 C454.83 485.77 456.33 493.77 456.00 496.60 C455.67 499.43 452.83 500.27 451.00 500.60 C449.17 500.93 446.00 501.43 445.00 498.60 C444.00 495.77 443.67 486.10 445.00 483.60 Z" fill="url(#edgeShade)" filter="url(#blur05)"/>
<g filter="url(#blur05)">
<ellipse cx="421.00" cy="491.10" rx="5.30" ry="5.30" fill="#2b12ff"/>
<ellipse cx="421.00" cy="491.10" rx="3.90" ry="3.90" fill="#2b12ff"/>
<ellipse cx="429.50" cy="468.10" rx="2.40" ry="2.40" fill="#2b12ff"/>
<ellipse cx="437.50" cy="471.60" rx="2.20" ry="2.20" fill="#2b12ff"/>
<ellipse cx="448.50" cy="478.10" rx="4.40" ry="4.40" fill="#2b12ff"/>
<ellipse cx="448.50" cy="478.60" rx="2.80" ry="2.60" fill="#2b12ff"/>
<ellipse cx="438.00" cy="487.60" rx="2.50" ry="2.50" fill="#2b12ff"/>
<ellipse cx="444.00" cy="492.10" rx="3.00" ry="3.00" fill="#2b12ff"/>
<ellipse cx="421.00" cy="491.10" rx="2.60" ry="2.60" fill="#3cccff"/>
<ellipse cx="448.50" cy="478.60" rx="1.50" ry="1.30" fill="#3cccff"/>
</g>
<circle cx="446.76" cy="474.29" r="0.75" fill="#f4f4f4" opacity="0.51"/>
<circle cx="451.78" cy="493.13" r="0.70" fill="#f4f4f4" opacity="0.90"/>
<circle cx="429.39" cy="480.77" r="0.65" fill="#f4f4f4" opacity="0.61"/>
<circle cx="430.22" cy="476.83" r="0.70" fill="#f4f4f4" opacity="0.85"/>
<circle cx="448.92" cy="476.64" r="0.72" fill="#f4f4f4" opacity="0.70"/>
<circle cx="429.10" cy="485.00" r="0.55" fill="#f4f4f4" opacity="0.53"/>
<circle cx="440.76" cy="481.56" r="0.60" fill="#f4f4f4" opacity="0.87"/>
<circle cx="443.59" cy="483.18" r="0.70" fill="#f4f4f4" opacity="0.90"/>
<circle cx="445.17" cy="494.49" r="0.50" fill="#f4f4f4" opacity="0.70"/>
<circle cx="446.28" cy="484.41" r="0.56" fill="#f4f4f4" opacity="0.84"/>
<circle cx="451.10" cy="490.42" r="0.58" fill="#f4f4f4" opacity="0.57"/>
<circle cx="447.59" cy="488.89" r="0.69" fill="#f4f4f4" opacity="0.63"/>
<circle cx="449.86" cy="484.86" r="0.72" fill="#f4f4f4" opacity="0.82"/>
<circle cx="450.22" cy="485.56" r="0.57" fill="#f4f4f4" opacity="0.65"/>
<circle cx="453.15" cy="488.48" r="0.41" fill="#f4f4f4" opacity="0.86"/>
<circle cx="450.50" cy="491.78" r="0.74" fill="#f4f4f4" opacity="0.52"/>
<circle cx="445.68" cy="497.94" r="0.60" fill="#f4f4f4" opacity="0.68"/>
<circle cx="453.56" cy="493.69" r="0.64" fill="#f4f4f4" opacity="0.60"/>
<circle cx="426.00" cy="469.60" r="0.9" fill="#e0e0e0"/>
<circle cx="422.00" cy="477.60" r="0.9" fill="#e0e0e0"/>
<circle cx="459.00" cy="481.60" r="0.9" fill="#e0e0e0"/>
<circle cx="459.00" cy="498.60" r="0.9" fill="#e0e0e0"/>
<circle cx="462.00" cy="495.60" r="0.9" fill="#e0e0e0"/>
</g>
<rect x="467.70" y="458.60" width="54.0" height="53.3" fill="#1c1c1c"/>
<g clip-path="url(#dclip22)">
<path d="M481.70 468.60 C484.03 466.60 488.37 465.10 491.70 464.60 C495.03 464.10 498.70 464.27 501.70 465.60 C504.70 466.93 507.87 469.77 509.70 472.60 C511.53 475.43 512.03 478.93 512.70 482.60 C513.37 486.27 514.20 491.27 513.70 494.60 C513.20 497.93 512.03 500.77 509.70 502.60 C507.37 504.43 503.37 505.27 499.70 505.60 C496.03 505.93 491.03 505.77 487.70 504.60 C484.37 503.43 481.53 501.60 479.70 498.60 C477.87 495.60 477.03 490.27 476.70 486.60 C476.37 482.93 476.87 479.60 477.70 476.60 C478.53 473.60 479.37 470.60 481.70 468.60 Z" fill="#b0b0b0" filter="url(#tex)"/>
<path d="M481.70 468.60 C484.03 466.60 488.37 465.10 491.70 464.60 C495.03 464.10 498.70 464.27 501.70 465.60 C504.70 466.93 507.87 469.77 509.70 472.60 C511.53 475.43 512.03 478.93 512.70 482.60 C513.37 486.27 514.20 491.27 513.70 494.60 C513.20 497.93 512.03 500.77 509.70 502.60 C507.37 504.43 503.37 505.27 499.70 505.60 C496.03 505.93 491.03 505.77 487.70 504.60 C484.37 503.43 481.53 501.60 479.70 498.60 C477.87 495.60 477.03 490.27 476.70 486.60 C476.37 482.93 476.87 479.60 477.70 476.60 C478.53 473.60 479.37 470.60 481.70 468.60 Z" fill="url(#edgeShade)" filter="url(#blur05)"/>
<path d="M483.70 472.60 C484.37 471.27 488.37 469.93 489.70 470.60 C491.03 471.27 492.37 475.27 491.70 476.60 C491.03 477.93 487.03 479.27 485.70 478.60 C484.37 477.93 483.03 473.93 483.70 472.60 Z" fill="#ececec" opacity="0.75" filter="url(#blur2)"/>
<path d="M497.70 472.60 C498.53 471.60 502.70 471.60 503.70 472.60 C504.70 473.60 504.53 477.60 503.70 478.60 C502.87 479.60 499.70 479.60 498.70 478.60 C497.70 477.60 496.87 473.60 497.70 472.60 Z" fill="#ececec" opacity="0.75" filter="url(#blur2)"/>
<ellipse cx="493.20" cy="486.60" rx="1.2" ry="10" fill="#202020" filter="url(#blur1)"/>
<g filter="url(#blur05)">
<ellipse cx="506.70" cy="495.10" rx="5.30" ry="5.30" fill="#2b12ff"/>
<ellipse cx="495.70" cy="491.60" rx="2.50" ry="3.40" fill="#2b12ff"/>
<ellipse cx="485.20" cy="499.10" rx="3.40" ry="2.40" fill="#2b12ff"/>
<ellipse cx="506.70" cy="495.10" rx="4.00" ry="4.00" fill="#3cccff"/>
<ellipse cx="506.70" cy="495.10" rx="3.20" ry="3.20" fill="#3cff3c"/>
<ellipse cx="506.70" cy="495.10" rx="2.45" ry="2.45" fill="#f0f400"/>
<ellipse cx="506.70" cy="495.10" rx="1.50" ry="1.50" fill="#ff1a00"/>
</g>
<circle cx="490.08" cy="484.30" r="0.55" fill="#f4f4f4" opacity="0.68"/>
<circle cx="491.85" cy="491.57" r="0.49" fill="#f4f4f4" opacity="0.75"/>
<circle cx="489.10" cy="470.42" r="0.66" fill="#f4f4f4" opacity="0.62"/>
<circle cx="486.08" cy="501.24" r="0.68" fill="#f4f4f4" opacity="0.77"/>
<circle cx="477.71" cy="483.33" r="0.62" fill="#f4f4f4" opacity="0.62"/>
<circle cx="485.00" cy="477.30" r="0.49" fill="#f4f4f4" opacity="0.82"/>
<circle cx="489.57" cy="481.95" r="0.63" fill="#f4f4f4" opacity="0.88"/>
<circle cx="487.54" cy="466.40" r="0.74" fill="#f4f4f4" opacity="0.83"/>
<circle cx="505.94" cy="486.06" r="0.48" fill="#f4f4f4" opacity="0.56"/>
<circle cx="484.70" cy="464.60" r="0.9" fill="#e0e0e0"/>
<circle cx="506.70" cy="466.60" r="0.9" fill="#e0e0e0"/>
<circle cx="473.70" cy="486.60" r="0.9" fill="#e0e0e0"/>
<circle cx="480.70" cy="500.60" r="0.9" fill="#e0e0e0"/>
<circle cx="512.70" cy="497.60" r="0.9" fill="#e0e0e0"/>
</g>
<rect x="524.10" y="458.60" width="54.0" height="53.3" fill="#1c1c1c"/>
<g clip-path="url(#dclip23)">
<path d="M570.04 484.60 C570.22 487.63 569.99 490.93 568.94 493.69 C567.88 496.44 565.73 499.23 563.71 501.13 C561.68 503.03 559.19 504.36 556.79 505.09 C554.38 505.83 551.60 506.28 549.28 505.55 C546.95 504.83 544.68 502.70 542.84 500.76 C541.01 498.82 539.45 496.63 538.29 493.94 C537.12 491.24 536.02 487.73 535.84 484.60 C535.65 481.47 536.10 477.91 537.19 475.15 C538.28 472.39 540.33 469.73 542.37 468.03 C544.41 466.32 547.00 465.45 549.42 464.92 C551.84 464.39 554.56 464.25 556.89 464.85 C559.23 465.45 561.61 466.74 563.44 468.52 C565.26 470.30 566.74 472.83 567.84 475.51 C568.94 478.19 569.85 481.57 570.04 484.60 Z" fill="#4a4a4a" filter="url(#tex)"/>
<path d="M570.04 484.60 C570.22 487.63 569.99 490.93 568.94 493.69 C567.88 496.44 565.73 499.23 563.71 501.13 C561.68 503.03 559.19 504.36 556.79 505.09 C554.38 505.83 551.60 506.28 549.28 505.55 C546.95 504.83 544.68 502.70 542.84 500.76 C541.01 498.82 539.45 496.63 538.29 493.94 C537.12 491.24 536.02 487.73 535.84 484.60 C535.65 481.47 536.10 477.91 537.19 475.15 C538.28 472.39 540.33 469.73 542.37 468.03 C544.41 466.32 547.00 465.45 549.42 464.92 C551.84 464.39 554.56 464.25 556.89 464.85 C559.23 465.45 561.61 466.74 563.44 468.52 C565.26 470.30 566.74 472.83 567.84 475.51 C568.94 478.19 569.85 481.57 570.04 484.60 Z" fill="url(#edgeShade)" filter="url(#blur05)"/>
<path d="M545.10 483.60 C545.77 482.10 547.93 479.10 550.10 477.60 C552.27 476.10 555.43 474.77 558.10 474.60 C560.77 474.43 564.27 474.93 566.10 476.60 C567.93 478.27 568.93 482.43 569.10 484.60 C569.27 486.77 568.60 488.60 567.10 489.60 C565.60 490.60 562.27 491.27 560.10 490.60 C557.93 489.93 555.77 486.10 554.10 485.60 C552.43 485.10 551.43 487.43 550.10 487.60 C548.77 487.77 546.93 487.27 546.10 486.60 C545.27 485.93 544.43 485.10 545.10 483.60 Z" fill="#3a16ff" stroke="#7a30e8" stroke-width="1.6" stroke-opacity="0.85" filter="url(#texb)"/>
<path d="M557.10 467.60 C557.77 466.93 560.43 466.10 561.10 466.60 C561.77 467.10 561.77 469.93 561.10 470.60 C560.43 471.27 557.77 471.10 557.10 470.60 C556.43 470.10 556.43 468.27 557.10 467.60 Z" fill="#3a16ff" stroke="#7a30e8" stroke-width="1.6" stroke-opacity="0.85" filter="url(#texb)"/>
<g filter="url(#blur05)">
<ellipse cx="561.10" cy="482.60" rx="5.25" ry="5.05" fill="#2b12ff"/>
<ellipse cx="561.10" cy="482.10" rx="4.60" ry="4.60" fill="#2b12ff"/>
<ellipse cx="539.10" cy="479.60" rx="2.50" ry="2.30" fill="#2b12ff"/>
<ellipse cx="561.10" cy="482.60" rx="3.95" ry="3.75" fill="#3cccff"/>
<ellipse cx="561.10" cy="482.10" rx="3.30" ry="3.30" fill="#3cccff"/>
<ellipse cx="561.10" cy="482.60" rx="3.15" ry="2.95" fill="#3cff3c"/>
<ellipse cx="561.10" cy="482.10" rx="2.50" ry="2.50" fill="#3cff3c"/>
<ellipse cx="561.10" cy="482.60" rx="2.40" ry="2.20" fill="#f0f400"/>
<ellipse cx="561.10" cy="482.10" rx="1.75" ry="1.75" fill="#f0f400"/>
<ellipse cx="561.10" cy="482.10" rx="0.80" ry="0.80" fill="#ff1a00"/>
</g>
<circle cx="543.10" cy="472.60" r="0.9" fill="#e0e0e0"/>
<circle cx="546.10" cy="473.60" r="0.9" fill="#e0e0e0"/>
<circle cx="535.10" cy="484.60" r="0.9" fill="#e0e0e0"/>
<circle cx="566.10" cy="500.60" r="0.9" fill="#e0e0e0"/>
<circle cx="537.10" cy="466.60" r="0.9" fill="#e0e0e0"/>
</g>
<rect x="580.40" y="458.60" width="54.0" height="53.3" fill="#1c1c1c"/>
<g clip-path="url(#dclip24)">
<path d="M586.40 484.60 C586.07 480.60 588.07 476.93 590.40 474.60 C592.73 472.27 597.40 470.93 600.40 470.60 C603.40 470.27 606.73 470.60 608.40 472.60 C610.07 474.60 610.40 478.93 610.40 482.60 C610.40 486.27 609.73 491.60 608.40 494.60 C607.07 497.60 605.07 499.93 602.40 500.60 C599.73 501.27 595.07 501.27 592.40 498.60 C589.73 495.93 586.73 488.60 586.40 484.60 Z" fill="#8c8c8c" filter="url(#tex)"/>
<path d="M586.40 484.60 C586.07 480.60 588.07 476.93 590.40 474.60 C592.73 472.27 597.40 470.93 600.40 470.60 C603.40 470.27 606.73 470.60 608.40 472.60 C610.07 474.60 610.40 478.93 610.40 482.60 C610.40 486.27 609.73 491.60 608.40 494.60 C607.07 497.60 605.07 499.93 602.40 500.60 C599.73 501.27 595.07 501.27 592.40 498.60 C589.73 495.93 586.73 488.60 586.40 484.60 Z" fill="url(#edgeShade)" filter="url(#blur05)"/>
<path d="M608.40 474.60 C610.07 470.60 615.07 470.93 618.40 470.60 C621.73 470.27 626.07 470.60 628.40 472.60 C630.73 474.60 632.07 478.93 632.40 482.60 C632.73 486.27 631.73 491.27 630.40 494.60 C629.07 497.93 627.07 501.27 624.40 502.60 C621.73 503.93 617.07 503.93 614.40 502.60 C611.73 501.27 609.40 499.27 608.40 494.60 C607.40 489.93 606.73 478.60 608.40 474.60 Z" fill="#7c7c7c" filter="url(#tex)"/>
<path d="M608.40 474.60 C610.07 470.60 615.07 470.93 618.40 470.60 C621.73 470.27 626.07 470.60 628.40 472.60 C630.73 474.60 632.07 478.93 632.40 482.60 C632.73 486.27 631.73 491.27 630.40 494.60 C629.07 497.93 627.07 501.27 624.40 502.60 C621.73 503.93 617.07 503.93 614.40 502.60 C611.73 501.27 609.40 499.27 608.40 494.60 C607.40 489.93 606.73 478.60 608.40 474.60 Z" fill="url(#edgeShade)" filter="url(#blur05)"/>
<path d="M608.40 476.60 C610.57 474.77 617.40 474.93 620.40 475.60 C623.40 476.27 625.40 478.43 626.40 480.60 C627.40 482.77 627.40 486.60 626.40 488.60 C625.40 490.60 621.40 490.60 620.40 492.60 C619.40 494.60 621.40 498.93 620.40 500.60 C619.40 502.27 616.40 502.93 614.40 502.60 C612.40 502.27 609.57 501.27 608.40 498.60 C607.23 495.93 607.40 490.27 607.40 486.60 C607.40 482.93 606.23 478.43 608.40 476.60 Z" fill="#3a16ff" stroke="#7a30e8" stroke-width="1.6" stroke-opacity="0.85" filter="url(#texb)"/>
<g filter="url(#blur05)">
<ellipse cx="618.90" cy="481.10" rx="6.60" ry="4.60" fill="#2b12ff" transform="rotate(20 618.90 481.10)"/>
<ellipse cx="612.90" cy="496.60" rx="3.50" ry="3.30" fill="#2b12ff"/>
<ellipse cx="605.40" cy="467.10" rx="3.50" ry="2.80" fill="#2b12ff"/>
<ellipse cx="618.90" cy="481.10" rx="5.30" ry="3.30" fill="#3cccff" transform="rotate(20 618.90 481.10)"/>
<ellipse cx="612.90" cy="496.60" rx="2.20" ry="2.00" fill="#3cccff"/>
<ellipse cx="605.40" cy="467.10" rx="2.20" ry="1.50" fill="#3cccff"/>
<ellipse cx="618.90" cy="481.10" rx="4.50" ry="2.50" fill="#3cff3c" transform="rotate(20 618.90 481.10)"/>
</g>
<circle cx="590.75" cy="490.44" r="0.52" fill="#f4f4f4" opacity="0.58"/>
<circle cx="598.15" cy="485.42" r="0.57" fill="#f4f4f4" opacity="0.68"/>
<circle cx="592.75" cy="478.21" r="0.64" fill="#f4f4f4" opacity="0.63"/>
<circle cx="602.60" cy="494.22" r="0.70" fill="#f4f4f4" opacity="0.88"/>
<circle cx="592.03" cy="477.72" r="0.66" fill="#f4f4f4" opacity="0.73"/>
<circle cx="591.24" cy="490.93" r="0.71" fill="#f4f4f4" opacity="0.83"/>
<circle cx="591.59" cy="479.57" r="0.40" fill="#f4f4f4" opacity="0.89"/>
<circle cx="591.69" cy="492.41" r="0.59" fill="#f4f4f4" opacity="0.74"/>
<circle cx="599.04" cy="495.37" r="0.61" fill="#f4f4f4" opacity="0.62"/>
<circle cx="611.16" cy="485.88" r="0.72" fill="#f4f4f4" opacity="0.56"/>
<circle cx="624.81" cy="490.80" r="0.46" fill="#f4f4f4" opacity="0.58"/>
<circle cx="624.87" cy="484.58" r="0.54" fill="#f4f4f4" opacity="0.69"/>
<circle cx="610.83" cy="493.15" r="0.61" fill="#f4f4f4" opacity="0.71"/>
<circle cx="616.55" cy="496.57" r="0.69" fill="#f4f4f4" opacity="0.72"/>
<circle cx="610.53" cy="475.33" r="0.45" fill="#f4f4f4" opacity="0.53"/>
<circle cx="623.96" cy="487.99" r="0.47" fill="#f4f4f4" opacity="0.86"/>
<circle cx="623.51" cy="495.95" r="0.69" fill="#f4f4f4" opacity="0.77"/>
<circle cx="621.04" cy="502.11" r="0.45" fill="#f4f4f4" opacity="0.78"/>
<circle cx="596.40" cy="474.60" r="0.9" fill="#e0e0e0"/>
<circle cx="601.40" cy="489.60" r="0.9" fill="#e0e0e0"/>
</g>
<rect x="354.50" y="514.40" width="54.0" height="53.3" fill="#1c1c1c"/>
<g clip-path="url(#dclip30)">
<path d="M364.50 538.40 C364.50 536.57 365.50 534.73 366.50 532.40 C367.50 530.07 368.83 526.23 370.50 524.40 C372.17 522.57 374.17 522.07 376.50 521.40 C378.83 520.73 381.83 520.23 384.50 520.40 C387.17 520.57 390.17 521.07 392.50 522.40 C394.83 523.73 397.33 526.07 398.50 528.40 C399.67 530.73 399.83 534.23 399.50 536.40 C399.17 538.57 397.17 539.23 396.50 541.40 C395.83 543.57 395.50 546.40 395.50 549.40 C395.50 552.40 396.50 556.73 396.50 559.40 C396.50 562.07 396.50 564.90 395.50 565.40 C394.50 565.90 392.33 563.57 390.50 562.40 C388.67 561.23 386.50 560.07 384.50 558.40 C382.50 556.73 378.83 554.23 378.50 552.40 C378.17 550.57 383.17 548.40 382.50 547.40 C381.83 546.40 377.17 547.07 374.50 546.40 C371.83 545.73 368.17 544.73 366.50 543.40 C364.83 542.07 364.50 540.23 364.50 538.40 Z" fill="#b4b4b4" filter="url(#tex)"/>
<path d="M364.50 538.40 C364.50 536.57 365.50 534.73 366.50 532.40 C367.50 530.07 368.83 526.23 370.50 524.40 C372.17 522.57 374.17 522.07 376.50 521.40 C378.83 520.73 381.83 520.23 384.50 520.40 C387.17 520.57 390.17 521.07 392.50 522.40 C394.83 523.73 397.33 526.07 398.50 528.40 C399.67 530.73 399.83 534.23 399.50 536.40 C399.17 538.57 397.17 539.23 396.50 541.40 C395.83 543.57 395.50 546.40 395.50 549.40 C395.50 552.40 396.50 556.73 396.50 559.40 C396.50 562.07 396.50 564.90 395.50 565.40 C394.50 565.90 392.33 563.57 390.50 562.40 C388.67 561.23 386.50 560.07 384.50 558.40 C382.50 556.73 378.83 554.23 378.50 552.40 C378.17 550.57 383.17 548.40 382.50 547.40 C381.83 546.40 377.17 547.07 374.50 546.40 C371.83 545.73 368.17 544.73 366.50 543.40 C364.83 542.07 364.50 540.23 364.50 538.40 Z" fill="url(#edgeShade)" filter="url(#blur05)"/>
<g filter="url(#blur05)">
<ellipse cx="376.50" cy="529.90" rx="1.80" ry="2.00" fill="#2b12ff"/>
<ellipse cx="385.00" cy="557.40" rx="1.80" ry="1.80" fill="#2b12ff"/>
</g>
<circle cx="386.72" cy="541.96" r="0.48" fill="#f4f4f4" opacity="0.82"/>
<circle cx="392.77" cy="543.46" r="0.58" fill="#f4f4f4" opacity="0.59"/>
<circle cx="384.99" cy="523.52" r="0.68" fill="#f4f4f4" opacity="0.59"/>
<circle cx="395.13" cy="548.12" r="0.41" fill="#f4f4f4" opacity="0.63"/>
<circle cx="381.91" cy="525.61" r="0.73" fill="#f4f4f4" opacity="0.65"/>
<circle cx="380.36" cy="545.24" r="0.52" fill="#f4f4f4" opacity="0.69"/>
<circle cx="394.81" cy="530.97" r="0.67" fill="#f4f4f4" opacity="0.58"/>
<circle cx="390.92" cy="554.73" r="0.60" fill="#f4f4f4" opacity="0.79"/>
<circle cx="368.79" cy="541.83" r="0.69" fill="#f4f4f4" opacity="0.58"/>
<circle cx="364.50" cy="532.40" r="0.9" fill="#e0e0e0"/>
<circle cx="366.50" cy="523.40" r="0.9" fill="#e0e0e0"/>
<circle cx="371.50" cy="517.40" r="0.9" fill="#e0e0e0"/>
</g>
<rect x="411.00" y="514.40" width="54.0" height="53.3" fill="#1c1c1c"/>
<g clip-path="url(#dclip31)">
<path d="M454.76 541.40 C454.71 544.47 454.60 547.99 453.47 550.65 C452.35 553.30 450.14 555.37 448.00 557.31 C445.86 559.25 443.24 561.47 440.64 562.30 C438.04 563.12 435.08 563.09 432.39 562.27 C429.70 561.44 426.68 559.31 424.50 557.34 C422.32 555.38 420.48 553.13 419.33 550.47 C418.19 547.82 417.53 544.37 417.63 541.40 C417.73 538.43 418.84 535.35 419.94 532.64 C421.04 529.92 422.16 527.01 424.24 525.11 C426.31 523.20 429.63 522.03 432.37 521.20 C435.11 520.38 438.07 519.49 440.68 520.18 C443.30 520.87 445.90 523.34 448.07 525.35 C450.25 527.37 452.62 529.58 453.73 532.25 C454.85 534.93 454.80 538.33 454.76 541.40 Z" fill="#3a3a3a" filter="url(#tex)"/>
<path d="M454.76 541.40 C454.71 544.47 454.60 547.99 453.47 550.65 C452.35 553.30 450.14 555.37 448.00 557.31 C445.86 559.25 443.24 561.47 440.64 562.30 C438.04 563.12 435.08 563.09 432.39 562.27 C429.70 561.44 426.68 559.31 424.50 557.34 C422.32 555.38 420.48 553.13 419.33 550.47 C418.19 547.82 417.53 544.37 417.63 541.40 C417.73 538.43 418.84 535.35 419.94 532.64 C421.04 529.92 422.16 527.01 424.24 525.11 C426.31 523.20 429.63 522.03 432.37 521.20 C435.11 520.38 438.07 519.49 440.68 520.18 C443.30 520.87 445.90 523.34 448.07 525.35 C450.25 527.37 452.62 529.58 453.73 532.25 C454.85 534.93 454.80 538.33 454.76 541.40 Z" fill="url(#edgeShade)" filter="url(#blur05)"/>
<path d="M421.00 536.40 C421.83 534.07 423.33 530.57 425.00 528.40 C426.67 526.23 428.83 524.57 431.00 523.40 C433.17 522.23 435.67 521.40 438.00 521.40 C440.33 521.40 443.17 522.23 445.00 523.40 C446.83 524.57 447.83 526.23 449.00 528.40 C450.17 530.57 451.50 533.40 452.00 536.40 C452.50 539.40 452.33 543.07 452.00 546.40 C451.67 549.73 451.17 554.07 450.00 556.40 C448.83 558.73 446.83 560.07 445.00 560.40 C443.17 560.73 440.33 559.40 439.00 558.40 C437.67 557.40 437.67 554.40 437.00 554.40 C436.33 554.40 436.67 557.73 435.00 558.40 C433.33 559.07 429.17 559.73 427.00 558.40 C424.83 557.07 423.17 553.07 422.00 550.40 C420.83 547.73 420.17 544.73 420.00 542.40 C419.83 540.07 420.17 538.73 421.00 536.40 Z" fill="#b0b0b0" filter="url(#tex)"/>
<path d="M421.00 536.40 C421.83 534.07 423.33 530.57 425.00 528.40 C426.67 526.23 428.83 524.57 431.00 523.40 C433.17 522.23 435.67 521.40 438.00 521.40 C440.33 521.40 443.17 522.23 445.00 523.40 C446.83 524.57 447.83 526.23 449.00 528.40 C450.17 530.57 451.50 533.40 452.00 536.40 C452.50 539.40 452.33 543.07 452.00 546.40 C451.67 549.73 451.17 554.07 450.00 556.40 C448.83 558.73 446.83 560.07 445.00 560.40 C443.17 560.73 440.33 559.40 439.00 558.40 C437.67 557.40 437.67 554.40 437.00 554.40 C436.33 554.40 436.67 557.73 435.00 558.40 C433.33 559.07 429.17 559.73 427.00 558.40 C424.83 557.07 423.17 553.07 422.00 550.40 C420.83 547.73 420.17 544.73 420.00 542.40 C419.83 540.07 420.17 538.73 421.00 536.40 Z" fill="url(#edgeShade)" filter="url(#blur05)"/>
<g filter="url(#blur05)">
<ellipse cx="426.50" cy="536.90" rx="2.50" ry="1.50" fill="#2b12ff"/>
<ellipse cx="437.50" cy="539.40" rx="1.20" ry="1.20" fill="#2b12ff"/>
</g>
<circle cx="440.85" cy="534.88" r="0.71" fill="#f4f4f4" opacity="0.59"/>
<circle cx="450.70" cy="533.86" r="0.61" fill="#f4f4f4" opacity="0.87"/>
<circle cx="441.93" cy="557.43" r="0.65" fill="#f4f4f4" opacity="0.52"/>
<circle cx="448.20" cy="544.39" r="0.51" fill="#f4f4f4" opacity="0.58"/>
<circle cx="447.19" cy="544.13" r="0.73" fill="#f4f4f4" opacity="0.81"/>
<circle cx="450.76" cy="543.49" r="0.64" fill="#f4f4f4" opacity="0.74"/>
<circle cx="430.00" cy="551.86" r="0.73" fill="#f4f4f4" opacity="0.76"/>
<circle cx="424.55" cy="553.58" r="0.63" fill="#f4f4f4" opacity="0.57"/>
<circle cx="421.57" cy="542.14" r="0.41" fill="#f4f4f4" opacity="0.87"/>
<circle cx="435.00" cy="515.90" r="0.9" fill="#e0e0e0"/>
<circle cx="433.00" cy="518.40" r="0.9" fill="#e0e0e0"/>
<circle cx="417.00" cy="532.40" r="0.9" fill="#e0e0e0"/>
<circle cx="454.00" cy="532.40" r="0.9" fill="#e0e0e0"/>
<circle cx="453.00" cy="551.40" r="0.9" fill="#e0e0e0"/>
<circle cx="421.00" cy="556.40" r="0.9" fill="#e0e0e0"/>
<circle cx="449.00" cy="560.40" r="0.9" fill="#e0e0e0"/>
</g>
<rect x="467.70" y="514.40" width="54.0" height="53.3" fill="#1c1c1c"/>
<g clip-path="url(#dclip32)">
<path d="M473.70 536.40 C474.03 533.40 475.70 532.07 477.70 530.40 C479.70 528.73 483.20 527.40 485.70 526.40 C488.20 525.40 491.70 523.07 492.70 524.40 C493.70 525.73 492.20 530.40 491.70 534.40 C491.20 538.40 490.37 545.07 489.70 548.40 C489.03 551.73 489.03 553.40 487.70 554.40 C486.37 555.40 483.70 555.40 481.70 554.40 C479.70 553.40 477.03 551.40 475.70 548.40 C474.37 545.40 473.37 539.40 473.70 536.40 Z" fill="#b0b0b0" filter="url(#tex)"/>
<path d="M473.70 536.40 C474.03 533.40 475.70 532.07 477.70 530.40 C479.70 528.73 483.20 527.40 485.70 526.40 C488.20 525.40 491.70 523.07 492.70 524.40 C493.70 525.73 492.20 530.40 491.70 534.40 C491.20 538.40 490.37 545.07 489.70 548.40 C489.03 551.73 489.03 553.40 487.70 554.40 C486.37 555.40 483.70 555.40 481.70 554.40 C479.70 553.40 477.03 551.40 475.70 548.40 C474.37 545.40 473.37 539.40 473.70 536.40 Z" fill="url(#edgeShade)" filter="url(#blur05)"/>
<path d="M489.70 544.40 C490.37 542.40 494.03 541.73 495.70 542.40 C497.37 543.07 499.37 546.07 499.70 548.40 C500.03 550.73 499.03 555.40 497.70 556.40 C496.37 557.40 493.03 556.40 491.70 554.40 C490.37 552.40 489.03 546.40 489.70 544.40 Z" fill="#bcbcbc" filter="url(#tex)"/>
<path d="M489.70 544.40 C490.37 542.40 494.03 541.73 495.70 542.40 C497.37 543.07 499.37 546.07 499.70 548.40 C500.03 550.73 499.03 555.40 497.70 556.40 C496.37 557.40 493.03 556.40 491.70 554.40 C490.37 552.40 489.03 546.40 489.70 544.40 Z" fill="url(#edgeShade)" filter="url(#blur05)"/>
<path d="M493.70 524.40 C494.70 522.73 499.03 523.40 501.70 524.40 C504.37 525.40 507.70 527.73 509.70 530.40 C511.70 533.07 512.87 536.73 513.70 540.40 C514.53 544.07 515.03 549.07 514.70 552.40 C514.37 555.73 513.53 558.73 511.70 560.40 C509.87 562.07 505.70 562.73 503.70 562.40 C501.70 562.07 500.70 561.40 499.70 558.40 C498.70 555.40 498.37 548.40 497.70 544.40 C497.03 540.40 496.37 537.73 495.70 534.40 C495.03 531.07 492.70 526.07 493.70 524.40 Z" fill="#b4b4b4" filter="url(#tex)"/>
<path d="M493.70 524.40 C494.70 522.73 499.03 523.40 501.70 524.40 C504.37 525.40 507.70 527.73 509.70 530.40 C511.70 533.07 512.87 536.73 513.70 540.40 C514.53 544.07 515.03 549.07 514.70 552.40 C514.37 555.73 513.53 558.73 511.70 560.40 C509.87 562.07 505.70 562.73 503.70 562.40 C501.70 562.07 500.70 561.40 499.70 558.40 C498.70 555.40 498.37 548.40 497.70 544.40 C497.03 540.40 496.37 537.73 495.70 534.40 C495.03 531.07 492.70 526.07 493.70 524.40 Z" fill="url(#edgeShade)" filter="url(#blur05)"/>
<g filter="url(#blur05)">
<ellipse cx="496.70" cy="526.40" rx="3.50" ry="3.30" fill="#2b12ff"/>
<ellipse cx="496.70" cy="525.90" rx="2.50" ry="2.50" fill="#2b12ff"/>
<ellipse cx="496.70" cy="525.90" rx="1.20" ry="1.20" fill="#3cccff"/>
</g>
<circle cx="490.66" cy="526.91" r="0.61" fill="#f4f4f4" opacity="0.67"/>
<circle cx="483.77" cy="528.31" r="0.47" fill="#f4f4f4" opacity="0.68"/>
<circle cx="477.90" cy="538.05" r="0.41" fill="#f4f4f4" opacity="0.53"/>
<circle cx="487.19" cy="537.04" r="0.58" fill="#f4f4f4" opacity="0.79"/>
<circle cx="488.58" cy="542.07" r="0.63" fill="#f4f4f4" opacity="0.75"/>
<circle cx="488.14" cy="535.46" r="0.60" fill="#f4f4f4" opacity="0.76"/>
<circle cx="482.71" cy="545.94" r="0.61" fill="#f4f4f4" opacity="0.68"/>
<circle cx="485.91" cy="529.86" r="0.46" fill="#f4f4f4" opacity="0.63"/>
<circle cx="489.20" cy="530.27" r="0.44" fill="#f4f4f4" opacity="0.54"/>
<circle cx="490.09" cy="546.26" r="0.60" fill="#f4f4f4" opacity="0.83"/>
<circle cx="493.01" cy="547.58" r="0.50" fill="#f4f4f4" opacity="0.62"/>
<circle cx="497.48" cy="550.09" r="0.49" fill="#f4f4f4" opacity="0.54"/>
<circle cx="497.54" cy="552.30" r="0.69" fill="#f4f4f4" opacity="0.60"/>
<circle cx="495.15" cy="555.26" r="0.61" fill="#f4f4f4" opacity="0.88"/>
<circle cx="497.75" cy="555.68" r="0.59" fill="#f4f4f4" opacity="0.90"/>
<circle cx="497.19" cy="547.25" r="0.74" fill="#f4f4f4" opacity="0.65"/>
<circle cx="494.36" cy="545.15" r="0.73" fill="#f4f4f4" opacity="0.88"/>
<circle cx="491.86" cy="543.85" r="0.59" fill="#f4f4f4" opacity="0.57"/>
<circle cx="505.12" cy="555.29" r="0.49" fill="#f4f4f4" opacity="0.67"/>
<circle cx="512.62" cy="541.30" r="0.52" fill="#f4f4f4" opacity="0.86"/>
<circle cx="510.79" cy="558.42" r="0.64" fill="#f4f4f4" opacity="0.67"/>
<circle cx="508.25" cy="555.93" r="0.62" fill="#f4f4f4" opacity="0.60"/>
<circle cx="499.90" cy="539.97" r="0.67" fill="#f4f4f4" opacity="0.72"/>
<circle cx="505.25" cy="555.81" r="0.44" fill="#f4f4f4" opacity="0.75"/>
<circle cx="500.68" cy="545.66" r="0.69" fill="#f4f4f4" opacity="0.60"/>
<circle cx="505.50" cy="544.99" r="0.48" fill="#f4f4f4" opacity="0.72"/>
<circle cx="503.59" cy="541.48" r="0.65" fill="#f4f4f4" opacity="0.50"/>
<circle cx="475.70" cy="548.40" r="0.9" fill="#e0e0e0"/>
<circle cx="509.70" cy="530.40" r="0.9" fill="#e0e0e0"/>
</g>
<rect x="524.10" y="514.40" width="54.0" height="53.3" fill="#1c1c1c"/>
<g clip-path="url(#dclip33)">
<path d="M532.10 536.40 C532.93 535.23 535.77 533.23 538.10 532.40 C540.43 531.57 544.10 531.07 546.10 531.40 C548.10 531.73 549.77 533.23 550.10 534.40 C550.43 535.57 550.10 537.57 548.10 538.40 C546.10 539.23 540.60 539.23 538.10 539.40 C535.60 539.57 534.10 539.90 533.10 539.40 C532.10 538.90 531.27 537.57 532.10 536.40 Z" fill="#b0b0b0" filter="url(#tex)"/>
<path d="M532.10 536.40 C532.93 535.23 535.77 533.23 538.10 532.40 C540.43 531.57 544.10 531.07 546.10 531.40 C548.10 531.73 549.77 533.23 550.10 534.40 C550.43 535.57 550.10 537.57 548.10 538.40 C546.10 539.23 540.60 539.23 538.10 539.40 C535.60 539.57 534.10 539.90 533.10 539.40 C532.10 538.90 531.27 537.57 532.10 536.40 Z" fill="url(#edgeShade)" filter="url(#blur05)"/>
<path d="M538.10 542.40 C538.77 540.40 543.77 540.73 546.10 540.40 C548.43 540.07 549.77 539.73 552.10 540.40 C554.43 541.07 557.43 542.40 560.10 544.40 C562.77 546.40 566.10 550.07 568.10 552.40 C570.10 554.73 572.43 556.73 572.10 558.40 C571.77 560.07 569.10 562.07 566.10 562.40 C563.10 562.73 557.10 561.07 554.10 560.40 C551.10 559.73 550.10 559.73 548.10 558.40 C546.10 557.07 543.77 555.07 542.10 552.40 C540.43 549.73 537.43 544.40 538.10 542.40 Z" fill="#a8a8a8" filter="url(#tex)"/>
<path d="M538.10 542.40 C538.77 540.40 543.77 540.73 546.10 540.40 C548.43 540.07 549.77 539.73 552.10 540.40 C554.43 541.07 557.43 542.40 560.10 544.40 C562.77 546.40 566.10 550.07 568.10 552.40 C570.10 554.73 572.43 556.73 572.10 558.40 C571.77 560.07 569.10 562.07 566.10 562.40 C563.10 562.73 557.10 561.07 554.10 560.40 C551.10 559.73 550.10 559.73 548.10 558.40 C546.10 557.07 543.77 555.07 542.10 552.40 C540.43 549.73 537.43 544.40 538.10 542.40 Z" fill="url(#edgeShade)" filter="url(#blur05)"/>
<path d="M550.10 530.40 C550.10 528.90 552.43 527.73 554.10 527.40 C555.77 527.07 558.43 529.90 560.10 528.40 C561.77 526.90 562.77 520.07 564.10 518.40 C565.43 516.73 567.43 516.07 568.10 518.40 C568.77 520.73 567.77 528.40 568.10 532.40 C568.43 536.40 570.77 541.40 570.10 542.40 C569.43 543.40 566.10 539.40 564.10 538.40 C562.10 537.40 559.77 536.73 558.10 536.40 C556.43 536.07 555.43 537.40 554.10 536.40 C552.77 535.40 550.10 531.90 550.10 530.40 Z" fill="#989898" filter="url(#tex)"/>
<path d="M550.10 530.40 C550.10 528.90 552.43 527.73 554.10 527.40 C555.77 527.07 558.43 529.90 560.10 528.40 C561.77 526.90 562.77 520.07 564.10 518.40 C565.43 516.73 567.43 516.07 568.10 518.40 C568.77 520.73 567.77 528.40 568.10 532.40 C568.43 536.40 570.77 541.40 570.10 542.40 C569.43 543.40 566.10 539.40 564.10 538.40 C562.10 537.40 559.77 536.73 558.10 536.40 C556.43 536.07 555.43 537.40 554.10 536.40 C552.77 535.40 550.10 531.90 550.10 530.40 Z" fill="url(#edgeShade)" filter="url(#blur05)"/>
<path d="M532.10 542.40 C532.27 541.23 533.60 540.40 534.10 541.40 C534.60 542.40 535.27 547.23 535.10 548.40 C534.93 549.57 533.60 549.40 533.10 548.40 C532.60 547.40 531.93 543.57 532.10 542.40 Z" fill="#ececec" opacity="0.75" filter="url(#blur2)"/>
<g filter="url(#blur05)">
<ellipse cx="553.60" cy="534.90" rx="2.50" ry="2.00" fill="#2b12ff"/>
<ellipse cx="552.60" cy="546.40" rx="2.80" ry="2.80" fill="#2b12ff"/>
</g>
<circle cx="544.92" cy="538.12" r="0.46" fill="#f4f4f4" opacity="0.90"/>
<circle cx="535.59" cy="536.77" r="0.43" fill="#f4f4f4" opacity="0.80"/>
<circle cx="534.82" cy="537.05" r="0.65" fill="#f4f4f4" opacity="0.81"/>
<circle cx="540.04" cy="538.33" r="0.75" fill="#f4f4f4" opacity="0.55"/>
<circle cx="541.40" cy="539.07" r="0.66" fill="#f4f4f4" opacity="0.68"/>
<circle cx="537.58" cy="539.02" r="0.43" fill="#f4f4f4" opacity="0.80"/>
<circle cx="547.28" cy="532.66" r="0.51" fill="#f4f4f4" opacity="0.62"/>
<circle cx="541.86" cy="534.34" r="0.71" fill="#f4f4f4" opacity="0.87"/>
<circle cx="537.79" cy="538.56" r="0.42" fill="#f4f4f4" opacity="0.54"/>
<circle cx="560.71" cy="557.98" r="0.69" fill="#f4f4f4" opacity="0.90"/>
<circle cx="563.35" cy="560.74" r="0.43" fill="#f4f4f4" opacity="0.70"/>
<circle cx="543.35" cy="543.55" r="0.57" fill="#f4f4f4" opacity="0.77"/>
<circle cx="564.11" cy="552.11" r="0.48" fill="#f4f4f4" opacity="0.75"/>
<circle cx="546.97" cy="554.57" r="0.63" fill="#f4f4f4" opacity="0.66"/>
<circle cx="554.04" cy="558.70" r="0.49" fill="#f4f4f4" opacity="0.57"/>
<circle cx="557.63" cy="549.96" r="0.71" fill="#f4f4f4" opacity="0.60"/>
<circle cx="550.72" cy="541.67" r="0.56" fill="#f4f4f4" opacity="0.63"/>
<circle cx="553.36" cy="557.21" r="0.41" fill="#f4f4f4" opacity="0.90"/>
<circle cx="564.33" cy="537.87" r="0.59" fill="#f4f4f4" opacity="0.73"/>
<circle cx="568.24" cy="537.56" r="0.62" fill="#f4f4f4" opacity="0.51"/>
<circle cx="555.35" cy="531.44" r="0.64" fill="#f4f4f4" opacity="0.67"/>
<circle cx="565.30" cy="526.05" r="0.65" fill="#f4f4f4" opacity="0.66"/>
<circle cx="567.00" cy="531.11" r="0.71" fill="#f4f4f4" opacity="0.59"/>
<circle cx="561.24" cy="535.22" r="0.42" fill="#f4f4f4" opacity="0.86"/>
<circle cx="565.98" cy="520.89" r="0.46" fill="#f4f4f4" opacity="0.56"/>
<circle cx="566.07" cy="530.31" r="0.65" fill="#f4f4f4" opacity="0.60"/>
<circle cx="563.18" cy="529.29" r="0.63" fill="#f4f4f4" opacity="0.66"/>
<circle cx="533.10" cy="543.40" r="0.9" fill="#e0e0e0"/>
<circle cx="559.10" cy="515.40" r="0.9" fill="#e0e0e0"/>
</g>
<rect x="580.40" y="514.40" width="54.0" height="53.3" fill="#1c1c1c"/>
<g clip-path="url(#dclip34)">
<path d="M627.01 541.40 C627.12 544.52 626.93 548.09 625.68 550.77 C624.44 553.44 621.88 555.69 619.56 557.46 C617.23 559.24 614.51 560.79 611.72 561.42 C608.94 562.06 605.67 561.93 602.87 561.27 C600.06 560.60 597.10 559.24 594.90 557.44 C592.70 555.64 591.02 553.14 589.68 550.46 C588.34 547.79 586.79 544.40 586.86 541.40 C586.93 538.40 588.68 535.27 590.08 532.45 C591.48 529.63 593.16 526.50 595.28 524.49 C597.41 522.49 600.06 521.09 602.84 520.43 C605.62 519.76 609.05 519.83 611.97 520.53 C614.88 521.22 618.13 522.68 620.32 524.60 C622.50 526.51 623.95 529.23 625.07 532.03 C626.18 534.83 626.91 538.28 627.01 541.40 Z" fill="#a2a2a2" filter="url(#tex)"/>
<path d="M627.01 541.40 C627.12 544.52 626.93 548.09 625.68 550.77 C624.44 553.44 621.88 555.69 619.56 557.46 C617.23 559.24 614.51 560.79 611.72 561.42 C608.94 562.06 605.67 561.93 602.87 561.27 C600.06 560.60 597.10 559.24 594.90 557.44 C592.70 555.64 591.02 553.14 589.68 550.46 C588.34 547.79 586.79 544.40 586.86 541.40 C586.93 538.40 588.68 535.27 590.08 532.45 C591.48 529.63 593.16 526.50 595.28 524.49 C597.41 522.49 600.06 521.09 602.84 520.43 C605.62 519.76 609.05 519.83 611.97 520.53 C614.88 521.22 618.13 522.68 620.32 524.60 C622.50 526.51 623.95 529.23 625.07 532.03 C626.18 534.83 626.91 538.28 627.01 541.40 Z" fill="url(#edgeShade)" filter="url(#blur05)"/>
<ellipse cx="606.40" cy="544.40" rx="1.8" ry="16" fill="#202020" filter="url(#blur1)"/>
<g filter="url(#blur05)">
<ellipse cx="603.90" cy="525.40" rx="3.00" ry="2.80" fill="#2b12ff"/>
<ellipse cx="617.90" cy="531.40" rx="2.50" ry="2.30" fill="#2b12ff"/>
<ellipse cx="597.40" cy="537.40" rx="2.60" ry="2.80" fill="#2b12ff"/>
<ellipse cx="605.40" cy="548.90" rx="2.80" ry="3.00" fill="#2b12ff"/>
<ellipse cx="597.40" cy="557.90" rx="2.50" ry="2.50" fill="#2b12ff"/>
</g>
<circle cx="602.00" cy="558.42" r="0.70" fill="#f4f4f4" opacity="0.59"/>
<circle cx="621.86" cy="546.52" r="0.41" fill="#f4f4f4" opacity="0.88"/>
<circle cx="597.13" cy="532.97" r="0.55" fill="#f4f4f4" opacity="0.74"/>
<circle cx="591.85" cy="548.58" r="0.69" fill="#f4f4f4" opacity="0.70"/>
<circle cx="618.76" cy="546.05" r="0.69" fill="#f4f4f4" opacity="0.57"/>
<circle cx="601.26" cy="539.67" r="0.44" fill="#f4f4f4" opacity="0.89"/>
<circle cx="612.40" cy="524.45" r="0.60" fill="#f4f4f4" opacity="0.67"/>
<circle cx="594.46" cy="527.02" r="0.56" fill="#f4f4f4" opacity="0.53"/>
<circle cx="609.47" cy="541.54" r="0.44" fill="#f4f4f4" opacity="0.85"/>
</g>
<rect x="639.3" y="473.5" width="8.4" height="76.9" fill="url(#cbar)" stroke="#333" stroke-width="0.6"/>
<rect x="648.6" y="473.60" width="3.5" height="0.5" fill="#bbb"/>
<rect x="648.6" y="476.16" width="1.8" height="0.5" fill="#bbb"/>
<rect x="648.6" y="478.72" width="1.8" height="0.5" fill="#bbb"/>
<rect x="648.6" y="481.28" width="1.8" height="0.5" fill="#bbb"/>
<rect x="648.6" y="483.84" width="1.8" height="0.5" fill="#bbb"/>
<rect x="648.6" y="486.40" width="3.5" height="0.5" fill="#bbb"/>
<rect x="648.6" y="488.96" width="1.8" height="0.5" fill="#bbb"/>
<rect x="648.6" y="491.52" width="1.8" height="0.5" fill="#bbb"/>
<rect x="648.6" y="494.08" width="1.8" height="0.5" fill="#bbb"/>
<rect x="648.6" y="496.64" width="1.8" height="0.5" fill="#bbb"/>
<rect x="648.6" y="499.20" width="3.5" height="0.5" fill="#bbb"/>
<rect x="648.6" y="501.76" width="1.8" height="0.5" fill="#bbb"/>
<rect x="648.6" y="504.32" width="1.8" height="0.5" fill="#bbb"/>
<rect x="648.6" y="506.88" width="1.8" height="0.5" fill="#bbb"/>
<rect x="648.6" y="509.44" width="1.8" height="0.5" fill="#bbb"/>
<rect x="648.6" y="512.00" width="3.5" height="0.5" fill="#bbb"/>
<rect x="648.6" y="514.56" width="1.8" height="0.5" fill="#bbb"/>
<rect x="648.6" y="517.12" width="1.8" height="0.5" fill="#bbb"/>
<rect x="648.6" y="519.68" width="1.8" height="0.5" fill="#bbb"/>
<rect x="648.6" y="522.24" width="1.8" height="0.5" fill="#bbb"/>
<rect x="648.6" y="524.80" width="3.5" height="0.5" fill="#bbb"/>
<rect x="648.6" y="527.36" width="1.8" height="0.5" fill="#bbb"/>
<rect x="648.6" y="529.92" width="1.8" height="0.5" fill="#bbb"/>
<rect x="648.6" y="532.48" width="1.8" height="0.5" fill="#bbb"/>
<rect x="648.6" y="535.04" width="1.8" height="0.5" fill="#bbb"/>
<rect x="648.6" y="537.60" width="3.5" height="0.5" fill="#bbb"/>
<rect x="648.6" y="540.16" width="1.8" height="0.5" fill="#bbb"/>
<rect x="648.6" y="542.72" width="1.8" height="0.5" fill="#bbb"/>
<rect x="648.6" y="545.28" width="1.8" height="0.5" fill="#bbb"/>
<rect x="648.6" y="547.84" width="1.8" height="0.5" fill="#bbb"/>
<rect x="648.6" y="550.40" width="3.5" height="0.5" fill="#bbb"/>
<text x="639.70" y="465.30" font-size="6" font-weight="bold" text-anchor="start" fill="#222" textLength="37.10" lengthAdjust="spacingAndGlyphs" >Luminescence</text>
<text x="655.30" y="473.70" font-size="6" font-weight="bold" text-anchor="start" fill="#222" textLength="8.20" lengthAdjust="spacingAndGlyphs" >6.0</text>
<text x="655.30" y="487.45" font-size="6" font-weight="bold" text-anchor="start" fill="#222" textLength="8.20" lengthAdjust="spacingAndGlyphs" >5.0</text>
<text x="655.30" y="501.20" font-size="6" font-weight="bold" text-anchor="start" fill="#222" textLength="8.20" lengthAdjust="spacingAndGlyphs" >4.0</text>
<text x="655.30" y="514.95" font-size="6" font-weight="bold" text-anchor="start" fill="#222" textLength="8.20" lengthAdjust="spacingAndGlyphs" >3.0</text>
<text x="655.30" y="528.70" font-size="6" font-weight="bold" text-anchor="start" fill="#222" textLength="8.20" lengthAdjust="spacingAndGlyphs" >2.0</text>
<text x="655.30" y="542.45" font-size="6" font-weight="bold" text-anchor="start" fill="#222" textLength="8.20" lengthAdjust="spacingAndGlyphs" >1.0</text>
<text x="666" y="508" font-size="5.8" font-weight="bold" fill="#222">x10<tspan font-size="4" dy="-2.2">5</tspan></text>
<text x="639.70" y="558.00" font-size="6" font-weight="bold" text-anchor="start" fill="#222" textLength="25.50" lengthAdjust="spacingAndGlyphs" >Radiance</text>
<text x="639.7" y="565.2" font-size="6" font-weight="bold" fill="#222" textLength="38.6" lengthAdjust="spacingAndGlyphs">(p/sec/cm<tspan font-size="4" dy="-2">2</tspan><tspan dy="2">/sr)</tspan></text>
</svg></body></html>
